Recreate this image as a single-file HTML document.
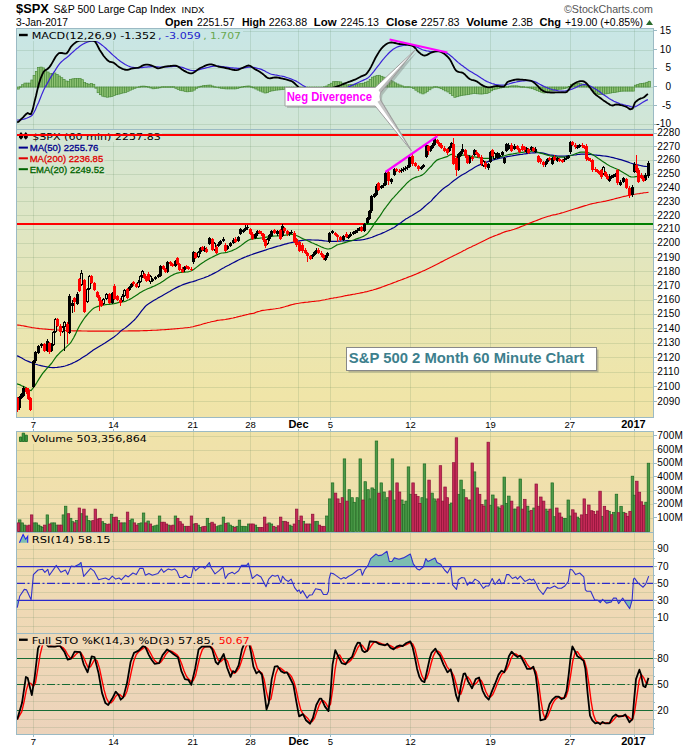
<!DOCTYPE html>
<html lang="en"><head><meta charset="utf-8"><title>$SPX S&amp;P 500 Large Cap Index - 60 min</title>
<style>html,body{margin:0;padding:0;background:#fff}svg{display:block}text{font-family:"Liberation Sans", sans-serif}.v{font-family:"DejaVu Sans", "Liberation Sans", sans-serif}</style></head><body>
<svg width="700" height="748" viewBox="0 0 700 748">
<defs><linearGradient id="bg" gradientUnits="userSpaceOnUse" x1="0" y1="28" x2="0" y2="734">
<stop offset="0.0000" stop-color="rgb(200,230,230)"/>
<stop offset="0.1232" stop-color="rgb(208,230,216)"/>
<stop offset="0.2436" stop-color="rgb(220,230,200)"/>
<stop offset="0.3994" stop-color="rgb(232,230,180)"/>
<stop offset="0.5198" stop-color="rgb(240,229,168)"/>
<stop offset="0.5907" stop-color="rgb(240,226,170)"/>
<stop offset="0.8314" stop-color="rgb(239,217,181)"/>
<stop offset="1.0000" stop-color="rgb(236,211,187)"/>
</linearGradient>
<linearGradient id="spk" x1="0" y1="0" x2="1" y2="0"><stop offset="0" stop-color="#fff"/><stop offset="0.55" stop-color="#fff"/><stop offset="1" stop-color="#8a8a8a"/></linearGradient>
<clipPath id="c1"><rect x="17" y="29" width="636" height="100"/></clipPath>
<clipPath id="c2"><rect x="17" y="130" width="636" height="287"/></clipPath>
<clipPath id="c70"><rect x="17" y="533" width="636" height="33.6"/></clipPath>
<clipPath id="c30"><rect x="17" y="600.4" width="636" height="32"/></clipPath>
<clipPath id="c5"><rect x="17" y="634" width="636" height="100"/></clipPath>
</defs>
<rect width="700" height="748" fill="#fff"/>
<text x="16" y="13.1" font-size="13" font-weight="bold" textLength="32.9" lengthAdjust="spacingAndGlyphs">$SPX</text>
<text x="53.6" y="13.1" font-size="11" textLength="122.3" lengthAdjust="spacingAndGlyphs">S&amp;P 500 Large Cap Index</text>
<text x="181.6" y="13.1" font-size="9" textLength="22.8" lengthAdjust="spacingAndGlyphs">INDX</text>
<text x="564" y="13" font-size="11" fill="#555" textLength="89" lengthAdjust="spacingAndGlyphs">©StockCharts.com</text>
<text x="16" y="26" font-size="10" textLength="52" lengthAdjust="spacingAndGlyphs">3-Jan-2017</text>
<text x="165" y="26" font-size="11" font-weight="bold" textLength="28" lengthAdjust="spacingAndGlyphs">Open</text>
<text x="197" y="26" font-size="10.5" textLength="37.4" lengthAdjust="spacingAndGlyphs">2251.57</text>
<text x="242" y="26" font-size="11" font-weight="bold" textLength="23.4" lengthAdjust="spacingAndGlyphs">High</text>
<text x="268.7" y="26" font-size="10.5" textLength="38.5" lengthAdjust="spacingAndGlyphs">2263.88</text>
<text x="313.8" y="26" font-size="11" font-weight="bold" textLength="22.8" lengthAdjust="spacingAndGlyphs">Low</text>
<text x="340.6" y="26" font-size="10.5" textLength="38.4" lengthAdjust="spacingAndGlyphs">2245.13</text>
<text x="386" y="26" font-size="11" font-weight="bold" textLength="31.5" lengthAdjust="spacingAndGlyphs">Close</text>
<text x="420.8" y="26" font-size="10.5" textLength="38.8" lengthAdjust="spacingAndGlyphs">2257.83</text>
<text x="466.3" y="26" font-size="11" font-weight="bold" textLength="41.5" lengthAdjust="spacingAndGlyphs">Volume</text>
<text x="512.1" y="26" font-size="10.5" textLength="21.1" lengthAdjust="spacingAndGlyphs">2.3B</text>
<text x="539.6" y="26" font-size="11" font-weight="bold" textLength="21.4" lengthAdjust="spacingAndGlyphs">Chg</text>
<text x="565" y="26" font-size="10.5" textLength="78" lengthAdjust="spacingAndGlyphs">+19.00 (+0.85%)</text>
<polygon points="646,25 653,25 649.5,20" fill="#2a6a2a"/>
<rect x="16.5" y="28.5" width="637" height="389" fill="url(#bg)" stroke="#9bbac4"/>
<rect x="16.5" y="431.5" width="637" height="303" fill="url(#bg)" stroke="#9bbac4"/>
<path d="M33.5 29V417M33.5 432V734M113.5 29V417M113.5 432V734M193.5 29V417M193.5 432V734M250.5 29V417M250.5 432V734M298.5 29V417M298.5 432V734M330.5 29V417M330.5 432V734M410.5 29V417M410.5 432V734M490.5 29V417M490.5 432V734M570.5 29V417M570.5 432V734M634.5 29V417M634.5 432V734M17 31.5H653M17 50.5H653M17 68.5H653M17 87.5H653M17 105.5H653M17 124.5H653M17 401.5H653M17 387.5H653M17 372.5H653M17 357.5H653M17 343.5H653M17 328.5H653M17 314.5H653M17 300.5H653M17 285.5H653M17 271.5H653M17 257.5H653M17 243.5H653M17 229.5H653M17 215.5H653M17 201.5H653M17 187.5H653M17 174.5H653M17 160.5H653M17 146.5H653M17 133.5H653M17 518.5H653M17 504.5H653M17 491.5H653M17 477.5H653M17 463.5H653M17 450.5H653M17 436.5H653M17 626.5H653M17 617.5H653M17 609.5H653M17 600.5H653M17 592.5H653M17 583.5H653M17 575.5H653M17 566.5H653M17 558.5H653M17 549.5H653M17 541.5H653M17 727.5H653M17 719.5H653M17 710.5H653M17 701.5H653M17 693.5H653M17 684.5H653M17 675.5H653M17 667.5H653M17 658.5H653M17 649.5H653M17 641.5H653" stroke="#4f7a50" stroke-opacity="0.16" fill="none" stroke-width="1"/>
<path d="M17 129.5H653M17 532.5H653M17 633.5H653" stroke="#9bbac4" fill="none"/>
<path d="M653 30.5H657M653 49.5H657M653 68.5H657M653 86.5H657M653 105.5H657M653 124.5H657M653 401.5H657M653 386.5H657M653 372.5H657M653 357.5H657M653 343.5H657M653 328.5H657M653 314.5H657M653 299.5H657M653 285.5H657M653 271.5H657M653 257.5H657M653 243.5H657M653 229.5H657M653 215.5H657M653 201.5H657M653 187.5H657M653 173.5H657M653 160.5H657M653 146.5H657M653 133.5H657M653 517.5H657M653 503.5H657M653 490.5H657M653 476.5H657M653 463.5H657M653 449.5H657M653 435.5H657M653 549.5H657M653 566.5H657M653 583.5H657M653 600.5H657M653 617.5H657M653 658.5H657M653 684.5H657M653 710.5H657M653 626.5H655M653 617.5H655M653 609.5H655M653 600.5H655M653 592.5H655M653 583.5H655M653 575.5H655M653 566.5H655M653 558.5H655M653 549.5H655M653 541.5H655M653 728.5H655M653 719.5H655M653 710.5H655M653 702.5H655M653 693.5H655M653 684.5H655M653 676.5H655M653 667.5H655M653 658.5H655M653 650.5H655M653 641.5H655" stroke="#9bbac4" fill="none"/>
<g font-size="10" letter-spacing="0.2" fill="#000"><text x="671.2" y="33.8" text-anchor="end">15</text><text x="671.2" y="52.5" text-anchor="end">10</text><text x="671.2" y="71.2" text-anchor="end">5</text><text x="671.2" y="89.9" text-anchor="end">0</text><text x="671.2" y="108.6" text-anchor="end">-5</text><text x="671.2" y="127.3" text-anchor="end">-10</text><text x="657.2" y="404.7">2090</text><text x="657.2" y="390">2100</text><text x="657.2" y="375.3">2110</text><text x="657.2" y="360.7">2120</text><text x="657.2" y="346.2">2130</text><text x="657.2" y="331.8">2140</text><text x="657.2" y="317.4">2150</text><text x="657.2" y="303.1">2160</text><text x="657.2" y="288.8">2170</text><text x="657.2" y="274.6">2180</text><text x="657.2" y="260.5">2190</text><text x="657.2" y="246.4">2200</text><text x="657.2" y="232.4">2210</text><text x="657.2" y="218.5">2220</text><text x="657.2" y="204.6">2230</text><text x="657.2" y="190.8">2240</text><text x="657.2" y="177.1">2250</text><text x="657.2" y="163.4">2260</text><text x="657.2" y="149.8">2270</text><text x="657.2" y="136.2">2280</text><text x="657.2" y="520.8">100M</text><text x="657.2" y="507.2">200M</text><text x="657.2" y="493.5">300M</text><text x="657.2" y="479.9">400M</text><text x="657.2" y="466.3">500M</text><text x="657.2" y="452.7">600M</text><text x="657.2" y="439.1">700M</text><text x="657.2" y="552.4">90</text><text x="657.2" y="569.5">70</text><text x="657.2" y="586.5">50</text><text x="657.2" y="603.5">30</text><text x="657.2" y="620.6">10</text><text x="657.2" y="661.6">80</text><text x="657.2" y="687.6">50</text><text x="657.2" y="713.6">20</text></g>
<g font-size="9.5"><text x="33.5" y="428" text-anchor="middle">7</text><text x="33.5" y="745" text-anchor="middle">7</text><text x="113.5" y="428" text-anchor="middle">14</text><text x="113.5" y="745" text-anchor="middle">14</text><text x="192.8" y="428" text-anchor="middle">21</text><text x="192.8" y="745" text-anchor="middle">21</text><text x="250.5" y="428" text-anchor="middle">28</text><text x="250.5" y="745" text-anchor="middle">28</text><text x="298.5" y="428" text-anchor="middle" font-weight="bold" font-size="11">Dec</text><text x="298.5" y="745" text-anchor="middle" font-weight="bold" font-size="11">Dec</text><text x="330.5" y="428" text-anchor="middle">5</text><text x="330.5" y="745" text-anchor="middle">5</text><text x="410.5" y="428" text-anchor="middle">12</text><text x="410.5" y="745" text-anchor="middle">12</text><text x="490.5" y="428" text-anchor="middle">19</text><text x="490.5" y="745" text-anchor="middle">19</text><text x="569.8" y="428" text-anchor="middle">27</text><text x="569.8" y="745" text-anchor="middle">27</text><text x="633.5" y="428" text-anchor="middle" font-weight="bold" font-size="11">2017</text><text x="633.5" y="745" text-anchor="middle" font-weight="bold" font-size="11">2017</text></g>
<path d="M33.5 418v2M33.5 429v2M33.5 735v2M113.5 418v2M113.5 429v2M113.5 735v2M193.5 418v2M193.5 429v2M193.5 735v2M250.5 418v2M250.5 429v2M250.5 735v2M298.5 418v2M298.5 429v2M298.5 735v2M330.5 418v2M330.5 429v2M330.5 735v2M410.5 418v2M410.5 429v2M410.5 735v2M490.5 418v2M490.5 429v2M490.5 735v2M570.5 418v2M570.5 429v2M570.5 735v2M634.5 418v2M634.5 429v2M634.5 735v2" stroke="#9bbac4" fill="none"/>
<g clip-path="url(#c1)">
<g fill="#8fc274" stroke="#4c8c3c" stroke-width="0.7"><rect x="17.1" y="87" width="2.3" height="2.1"/><rect x="19.3" y="86.7" width="2.3" height="0.6"/><rect x="21.6" y="84.7" width="2.3" height="2.3"/><rect x="23.9" y="83.1" width="2.3" height="3.9"/><rect x="26.2" y="83.1" width="2.3" height="3.9"/><rect x="28.5" y="83.1" width="2.3" height="3.9"/><rect x="30.8" y="80" width="2.3" height="7"/><rect x="33.1" y="75.4" width="2.3" height="11.6"/><rect x="35.3" y="71.5" width="2.3" height="15.5"/><rect x="37.6" y="67.6" width="2.3" height="19.4"/><rect x="39.9" y="67.1" width="2.3" height="19.9"/><rect x="42.2" y="67.9" width="2.3" height="19.1"/><rect x="44.5" y="70.2" width="2.3" height="16.8"/><rect x="46.8" y="72" width="2.3" height="15"/><rect x="49.1" y="73.7" width="2.3" height="13.3"/><rect x="51.3" y="73.5" width="2.3" height="13.5"/><rect x="53.6" y="73" width="2.3" height="14"/><rect x="55.9" y="74.4" width="2.3" height="12.6"/><rect x="58.2" y="76" width="2.3" height="11"/><rect x="60.5" y="77.7" width="2.3" height="9.3"/><rect x="62.8" y="79.4" width="2.3" height="7.6"/><rect x="65.1" y="81" width="2.3" height="6"/><rect x="67.4" y="81.3" width="2.3" height="5.7"/><rect x="69.6" y="79.3" width="2.3" height="7.7"/><rect x="71.9" y="78.8" width="2.3" height="8.2"/><rect x="74.2" y="78.6" width="2.3" height="8.4"/><rect x="76.5" y="78.6" width="2.3" height="8.4"/><rect x="78.8" y="78.6" width="2.3" height="8.4"/><rect x="81.1" y="79.7" width="2.3" height="7.3"/><rect x="83.4" y="82.6" width="2.3" height="4.4"/><rect x="85.6" y="83.6" width="2.3" height="3.4"/><rect x="87.9" y="84.2" width="2.3" height="2.8"/><rect x="90.2" y="83.6" width="2.3" height="3.4"/><rect x="92.5" y="84.3" width="2.3" height="2.7"/><rect x="94.8" y="87" width="2.3" height="1.2"/><rect x="97.1" y="87" width="2.3" height="5.7"/><rect x="99.4" y="87" width="2.3" height="7.7"/><rect x="101.7" y="87" width="2.3" height="9.2"/><rect x="103.9" y="87" width="2.3" height="9.8"/><rect x="106.2" y="87" width="2.3" height="10.2"/><rect x="108.5" y="87" width="2.3" height="9.9"/><rect x="110.8" y="87" width="2.3" height="9.5"/><rect x="113.1" y="87" width="2.3" height="8.6"/><rect x="115.4" y="87" width="2.3" height="7.7"/><rect x="117.7" y="87" width="2.3" height="7.1"/><rect x="119.9" y="87" width="2.3" height="6.5"/><rect x="122.2" y="87" width="2.3" height="5.9"/><rect x="124.5" y="87" width="2.3" height="5.4"/><rect x="126.8" y="87" width="2.3" height="4.3"/><rect x="129.1" y="87" width="2.3" height="3.2"/><rect x="131.4" y="87" width="2.3" height="2.2"/><rect x="133.7" y="87" width="2.3" height="1.3"/><rect x="135.9" y="87" width="2.3" height="0.5"/><rect x="138.2" y="86.7" width="2.3" height="0.6"/><rect x="140.5" y="86.2" width="2.3" height="0.8"/><rect x="142.8" y="86.1" width="2.3" height="0.9"/><rect x="145.1" y="86.5" width="2.3" height="0.5"/><rect x="147.4" y="86.7" width="2.3" height="0.6"/><rect x="149.7" y="87" width="2.3" height="1"/><rect x="152" y="87" width="2.3" height="1.8"/><rect x="154.2" y="87" width="2.3" height="1.6"/><rect x="156.5" y="87" width="2.3" height="1.2"/><rect x="158.8" y="87" width="2.3" height="0.8"/><rect x="161.1" y="86.7" width="2.3" height="0.6"/><rect x="163.4" y="86.7" width="2.3" height="0.6"/><rect x="165.7" y="86.7" width="2.3" height="0.6"/><rect x="168" y="86.7" width="2.3" height="0.6"/><rect x="170.2" y="86.7" width="2.3" height="0.6"/><rect x="172.5" y="86.7" width="2.3" height="0.6"/><rect x="174.8" y="87" width="2.3" height="1.3"/><rect x="177.1" y="87" width="2.3" height="2.6"/><rect x="179.4" y="87" width="2.3" height="3.3"/><rect x="181.7" y="87" width="2.3" height="3.8"/><rect x="184" y="87" width="2.3" height="4.4"/><rect x="186.3" y="87" width="2.3" height="4.8"/><rect x="188.5" y="87" width="2.3" height="4.5"/><rect x="190.8" y="87" width="2.3" height="4.2"/><rect x="193.1" y="87" width="2.3" height="3.1"/><rect x="195.4" y="87" width="2.3" height="1.3"/><rect x="197.7" y="86.7" width="2.3" height="0.6"/><rect x="200" y="86.2" width="2.3" height="0.8"/><rect x="202.3" y="85.7" width="2.3" height="1.3"/><rect x="204.5" y="85.5" width="2.3" height="1.5"/><rect x="206.8" y="85.2" width="2.3" height="1.8"/><rect x="209.1" y="85.1" width="2.3" height="1.9"/><rect x="211.4" y="86" width="2.3" height="1"/><rect x="213.7" y="86.7" width="2.3" height="0.6"/><rect x="216" y="87" width="2.3" height="0.5"/><rect x="218.3" y="87" width="2.3" height="0.9"/><rect x="220.5" y="87" width="2.3" height="1.3"/><rect x="222.8" y="87" width="2.3" height="1.7"/><rect x="225.1" y="87" width="2.3" height="1.9"/><rect x="227.4" y="87" width="2.3" height="1.9"/><rect x="229.7" y="87" width="2.3" height="1.9"/><rect x="232" y="87" width="2.3" height="1.9"/><rect x="234.3" y="87" width="2.3" height="1.9"/><rect x="236.6" y="87" width="2.3" height="1.4"/><rect x="238.8" y="87" width="2.3" height="0.7"/><rect x="241.1" y="86.7" width="2.3" height="0.6"/><rect x="243.4" y="86.4" width="2.3" height="0.6"/><rect x="245.7" y="86.1" width="2.3" height="0.9"/><rect x="248" y="86" width="2.3" height="1"/><rect x="250.3" y="86.7" width="2.3" height="0.6"/><rect x="252.6" y="87" width="2.3" height="0.9"/><rect x="254.8" y="87" width="2.3" height="2"/><rect x="257.1" y="87" width="2.3" height="3.1"/><rect x="259.4" y="87" width="2.3" height="4.1"/><rect x="261.7" y="87" width="2.3" height="5.1"/><rect x="264" y="87" width="2.3" height="6"/><rect x="266.3" y="87" width="2.3" height="5.7"/><rect x="268.6" y="87" width="2.3" height="4.5"/><rect x="270.9" y="87" width="2.3" height="3.9"/><rect x="273.1" y="87" width="2.3" height="3.5"/><rect x="275.4" y="87" width="2.3" height="3.1"/><rect x="277.7" y="87" width="2.3" height="2.9"/><rect x="280" y="87" width="2.3" height="2.7"/><rect x="282.3" y="87" width="2.3" height="2.6"/><rect x="284.6" y="87" width="2.3" height="2.6"/><rect x="286.9" y="87" width="2.3" height="2.7"/><rect x="289.1" y="87" width="2.3" height="2.8"/><rect x="291.4" y="87" width="2.3" height="2.9"/><rect x="293.7" y="87" width="2.3" height="3"/><rect x="296" y="87" width="2.3" height="3.2"/><rect x="298.3" y="87" width="2.3" height="3.4"/><rect x="300.6" y="87" width="2.3" height="3.7"/><rect x="302.9" y="87" width="2.3" height="3.9"/><rect x="305.1" y="87" width="2.3" height="3.8"/><rect x="307.4" y="87" width="2.3" height="3.4"/><rect x="309.7" y="87" width="2.3" height="3.1"/><rect x="312" y="87" width="2.3" height="2.7"/><rect x="314.3" y="87" width="2.3" height="2.4"/><rect x="316.6" y="87" width="2.3" height="2"/><rect x="318.9" y="87" width="2.3" height="1.4"/><rect x="321.2" y="87" width="2.3" height="0.7"/><rect x="323.4" y="86.7" width="2.3" height="0.6"/><rect x="325.7" y="86" width="2.3" height="1"/><rect x="328" y="84.6" width="2.3" height="2.4"/><rect x="330.3" y="83.2" width="2.3" height="3.8"/><rect x="332.6" y="81.7" width="2.3" height="5.3"/><rect x="334.9" y="81.5" width="2.3" height="5.5"/><rect x="337.2" y="81.7" width="2.3" height="5.3"/><rect x="339.4" y="81.9" width="2.3" height="5.1"/><rect x="341.7" y="83.2" width="2.3" height="3.8"/><rect x="344" y="84.7" width="2.3" height="2.3"/><rect x="346.3" y="84.9" width="2.3" height="2.1"/><rect x="348.6" y="84.7" width="2.3" height="2.3"/><rect x="350.9" y="84.5" width="2.3" height="2.5"/><rect x="353.2" y="84.3" width="2.3" height="2.7"/><rect x="355.5" y="84.1" width="2.3" height="2.9"/><rect x="357.7" y="83.8" width="2.3" height="3.2"/><rect x="360" y="83.5" width="2.3" height="3.5"/><rect x="362.3" y="83.2" width="2.3" height="3.8"/><rect x="364.6" y="82.3" width="2.3" height="4.7"/><rect x="366.9" y="81.2" width="2.3" height="5.8"/><rect x="369.2" y="79.3" width="2.3" height="7.7"/><rect x="371.5" y="77.2" width="2.3" height="9.8"/><rect x="373.7" y="76.2" width="2.3" height="10.8"/><rect x="376" y="75.6" width="2.3" height="11.4"/><rect x="378.3" y="75.3" width="2.3" height="11.7"/><rect x="380.6" y="76.3" width="2.3" height="10.7"/><rect x="382.9" y="77.2" width="2.3" height="9.8"/><rect x="385.2" y="78.3" width="2.3" height="8.7"/><rect x="387.5" y="79.5" width="2.3" height="7.5"/><rect x="389.7" y="80.6" width="2.3" height="6.4"/><rect x="392" y="81.8" width="2.3" height="5.2"/><rect x="394.3" y="82.9" width="2.3" height="4.1"/><rect x="396.6" y="84" width="2.3" height="3"/><rect x="398.9" y="85" width="2.3" height="2"/><rect x="401.2" y="85.9" width="2.3" height="1.1"/><rect x="403.5" y="86.7" width="2.3" height="0.6"/><rect x="405.8" y="86.7" width="2.3" height="0.6"/><rect x="408" y="86.7" width="2.3" height="0.6"/><rect x="410.3" y="87" width="2.3" height="0.5"/><rect x="412.6" y="87" width="2.3" height="1.6"/><rect x="414.9" y="87" width="2.3" height="3.2"/><rect x="417.2" y="87" width="2.3" height="4.9"/><rect x="419.5" y="87" width="2.3" height="6"/><rect x="421.8" y="87" width="2.3" height="6.9"/><rect x="424" y="87" width="2.3" height="5.9"/><rect x="426.3" y="87" width="2.3" height="4.4"/><rect x="428.6" y="87" width="2.3" height="2.8"/><rect x="430.9" y="87" width="2.3" height="1.1"/><rect x="433.2" y="86.7" width="2.3" height="0.6"/><rect x="435.5" y="86.7" width="2.3" height="0.6"/><rect x="437.8" y="87" width="2.3" height="0.8"/><rect x="440.1" y="87" width="2.3" height="1.7"/><rect x="442.3" y="87" width="2.3" height="2.8"/><rect x="444.6" y="87" width="2.3" height="3.9"/><rect x="446.9" y="87" width="2.3" height="5"/><rect x="449.2" y="87" width="2.3" height="6.7"/><rect x="451.5" y="87" width="2.3" height="8.5"/><rect x="453.8" y="87" width="2.3" height="10.3"/><rect x="456.1" y="87" width="2.3" height="9.7"/><rect x="458.3" y="87" width="2.3" height="9"/><rect x="460.6" y="87" width="2.3" height="8.5"/><rect x="462.9" y="87" width="2.3" height="8.1"/><rect x="465.2" y="87" width="2.3" height="7.8"/><rect x="467.5" y="87" width="2.3" height="7.4"/><rect x="469.8" y="87" width="2.3" height="7"/><rect x="472.1" y="87" width="2.3" height="6.6"/><rect x="474.4" y="87" width="2.3" height="6.5"/><rect x="476.6" y="87" width="2.3" height="6.8"/><rect x="478.9" y="87" width="2.3" height="7"/><rect x="481.2" y="87" width="2.3" height="7"/><rect x="483.5" y="87" width="2.3" height="6.7"/><rect x="485.8" y="87" width="2.3" height="6.5"/><rect x="488.1" y="87" width="2.3" height="5.5"/><rect x="490.4" y="87" width="2.3" height="3.8"/><rect x="492.6" y="87" width="2.3" height="2.7"/><rect x="494.9" y="87" width="2.3" height="2.1"/><rect x="497.2" y="87" width="2.3" height="1.5"/><rect x="499.5" y="87" width="2.3" height="1"/><rect x="501.8" y="87" width="2.3" height="0.6"/><rect x="504.1" y="86.7" width="2.3" height="0.6"/><rect x="506.4" y="86.7" width="2.3" height="0.6"/><rect x="508.6" y="86.2" width="2.3" height="0.8"/><rect x="510.9" y="85.9" width="2.3" height="1.1"/><rect x="513.2" y="85.9" width="2.3" height="1.1"/><rect x="515.5" y="85.9" width="2.3" height="1.1"/><rect x="517.8" y="86.2" width="2.3" height="0.8"/><rect x="520.1" y="86.7" width="2.3" height="0.6"/><rect x="522.4" y="86.7" width="2.3" height="0.6"/><rect x="524.7" y="87" width="2.3" height="0.5"/><rect x="526.9" y="87" width="2.3" height="0.8"/><rect x="529.2" y="87" width="2.3" height="1.1"/><rect x="531.5" y="87" width="2.3" height="1.7"/><rect x="533.8" y="87" width="2.3" height="2.7"/><rect x="536.1" y="87" width="2.3" height="3.7"/><rect x="538.4" y="87" width="2.3" height="4.5"/><rect x="540.7" y="87" width="2.3" height="5.3"/><rect x="542.9" y="87" width="2.3" height="6"/><rect x="545.2" y="87" width="2.3" height="5.2"/><rect x="547.5" y="87" width="2.3" height="4.4"/><rect x="549.8" y="87" width="2.3" height="3.8"/><rect x="552.1" y="87" width="2.3" height="3.3"/><rect x="554.4" y="87" width="2.3" height="2.7"/><rect x="556.7" y="87" width="2.3" height="2.4"/><rect x="559" y="87" width="2.3" height="2.2"/><rect x="561.2" y="87" width="2.3" height="2"/><rect x="563.5" y="87" width="2.3" height="1.6"/><rect x="565.8" y="87" width="2.3" height="1"/><rect x="568.1" y="86.5" width="2.3" height="0.5"/><rect x="570.4" y="84.3" width="2.3" height="2.7"/><rect x="572.7" y="83.8" width="2.3" height="3.2"/><rect x="575" y="83.3" width="2.3" height="3.7"/><rect x="577.2" y="83.3" width="2.3" height="3.7"/><rect x="579.5" y="83.7" width="2.3" height="3.3"/><rect x="581.8" y="84.1" width="2.3" height="2.9"/><rect x="584.1" y="84.9" width="2.3" height="2.1"/><rect x="586.4" y="86.1" width="2.3" height="0.9"/><rect x="588.7" y="87" width="2.3" height="0.8"/><rect x="591" y="87" width="2.3" height="3.1"/><rect x="593.2" y="87" width="2.3" height="4.9"/><rect x="595.5" y="87" width="2.3" height="6.8"/><rect x="597.8" y="87" width="2.3" height="7.6"/><rect x="600.1" y="87" width="2.3" height="7.6"/><rect x="602.4" y="87" width="2.3" height="7.3"/><rect x="604.7" y="87" width="2.3" height="6.9"/><rect x="607" y="87" width="2.3" height="6.5"/><rect x="609.3" y="87" width="2.3" height="6.1"/><rect x="611.5" y="87" width="2.3" height="5.7"/><rect x="613.8" y="87" width="2.3" height="5.4"/><rect x="616.1" y="87" width="2.3" height="5"/><rect x="618.4" y="87" width="2.3" height="4.6"/><rect x="620.7" y="87" width="2.3" height="4.2"/><rect x="623" y="87" width="2.3" height="4.1"/><rect x="625.3" y="87" width="2.3" height="4.1"/><rect x="627.5" y="87" width="2.3" height="4.1"/><rect x="629.8" y="87" width="2.3" height="4.1"/><rect x="632.1" y="87" width="2.3" height="4.1"/><rect x="634.4" y="85.2" width="2.3" height="1.8"/><rect x="636.7" y="84.5" width="2.3" height="2.5"/><rect x="639" y="83.7" width="2.3" height="3.3"/><rect x="641.3" y="83.4" width="2.3" height="3.6"/><rect x="643.6" y="83.1" width="2.3" height="3.9"/><rect x="645.8" y="82.3" width="2.3" height="4.7"/><rect x="648.1" y="81.3" width="2.3" height="5.7"/></g>
<polyline points="17.2,120.2 18.8,120 20.5,119.8 22.1,119.5 23.8,119.1 25.4,118.6 27.1,118 28.8,117.3 30.6,116.4 32.3,115.1 33.8,112.7 35.4,109.8 36.9,106 38.6,102.4 40.3,98.2 42,93.9 43.7,90 45.4,86.6 47.2,83.6 48.9,80.5 50.6,77.4 52.1,75.1 53.6,72.7 55.2,70.3 56.7,67.9 58.2,65.7 59.7,63.7 61.2,62 62.8,60.6 64.3,59.3 65.8,58.2 67.4,57 68.9,55.7 70.4,54.3 71.9,52.9 73.5,51.5 75,50.1 76.5,48.8 78,47.7 79.7,46.3 81.5,45 83.2,44 84.9,43.1 86.4,42.5 87.9,42 89.5,41.5 91,41.1 92.5,40.9 94,40.9 95.7,41.2 97.5,42 99.2,43 100.9,44.3 102.4,45.4 103.9,46.6 105.5,48 107,49.5 108.5,50.9 110,52.3 111.5,53.7 113,55.1 114.5,56.4 116.1,57.8 117.6,59.1 119.1,60.3 120.6,61.4 122.2,62.5 123.7,63.5 125.2,64.5 126.8,65.3 128.3,66 129.8,66.6 131.3,67 132.9,67.3 134.4,67.6 135.9,67.7 137.4,67.8 138.9,67.8 140.4,67.7 142,67.6 143.5,67.4 145,67.2 146.5,67.1 148.1,66.9 149.6,66.8 151.1,66.7 152.7,66.7 154.4,66.7 156,66.8 157.7,66.9 159.3,67 161,67.1 162.6,67.1 164.4,67 166.3,66.9 168.2,66.8 170,66.7 171.5,66.6 173,66.5 174.6,66.4 176.1,66.4 177.6,66.5 179.1,66.7 180.6,67 182.2,67.4 183.7,67.9 185.2,68.5 186.8,69.1 188.3,69.6 189.8,70.1 191.4,70.4 192.9,70.6 194.5,70.6 196.2,70.4 197.8,70 199.4,69.6 201,69.1 202.7,68.7 204.3,68.3 205.9,67.9 207.6,67.5 209.2,67.1 210.8,66.7 212.4,66.4 214.1,66.1 215.7,66 217.2,66 218.7,66.1 220.3,66.3 221.8,66.5 223.3,66.7 224.8,67 226.4,67.2 227.9,67.4 229.4,67.6 231,67.8 232.7,67.9 234.3,68.1 236,68.2 237.6,68.3 239.3,68.3 240.9,68.3 242.4,68.2 243.9,67.9 245.4,67.6 247,67.3 248.5,67.1 250,67.1 251.6,67.2 253.3,67.4 254.9,67.7 256.5,68.1 258.1,68.5 259.8,68.9 261.4,69.4 262.9,70.1 264.5,70.8 266,71.7 267.5,72.5 269.1,73.3 270.6,74 272.1,74.4 273.6,74.7 275.2,75 276.7,75.2 278.2,75.5 279.7,75.8 281.3,76 282.8,76.3 284.3,76.7 285.9,77.2 287.6,77.7 289.2,78.3 290.8,78.9 292.4,79.5 294.1,80.2 295.7,80.9 297.2,81.8 298.8,82.7 300.3,83.7 301.8,84.7 303.4,85.7 304.9,86.6 306.7,87.8 308.4,89 310.2,90.1 312,91 313.6,91.7 315.2,92.3 316.8,92.8 318.4,93.2 320,93.5 321.7,93.6 323.3,93.6 325,93.6 326.7,93.5 328.3,93.3 330,93 331.7,92.6 333.3,92.2 335,91.7 336.7,91.1 338.3,90.6 340,90 341.5,89.5 343,88.9 344.6,88.4 346.1,87.8 347.6,87.2 349.1,86.6 350.8,85.9 352.5,85.2 354.2,84.4 356,83.6 357.7,82.8 359.4,82 360.9,81.3 362.5,80.6 364,79.9 365.5,79.2 367.1,78.4 368.6,77.4 370.3,75.7 372,73.7 373.7,71.6 375.4,69.4 377.1,67.2 378.9,65 380.6,62.6 382.3,60.3 383.8,58.7 385.3,56.9 386.9,55.2 388.4,53.5 389.9,52 391.4,50.7 393.1,49.2 394.9,48.2 396.6,47.3 398.3,46.6 399.8,46.2 401.3,45.8 402.9,45.5 404.4,45.2 405.9,45.1 407.4,45 409.1,45 410.9,45.2 412.6,45.6 414.3,46.1 415.8,46.6 417.3,47.3 418.9,48 420.4,48.8 421.9,49.5 423.4,50 424.9,50.4 426.5,50.8 428,51 429.5,51.3 431.1,51.5 432.6,51.6 434.1,51.7 435.6,51.6 437.1,51.5 438.7,51.4 440.2,51.4 441.7,51.6 443.6,52 445.4,52.6 447.2,53.4 449.1,54.6 450.6,55.7 452.2,56.9 453.7,58.4 455.2,59.8 456.8,61.3 458.3,62.6 459.8,63.8 461.3,65 462.9,66.1 464.4,67.3 465.9,68.3 467.4,69.4 468.9,70.4 470.5,71.4 472,72.3 473.5,73.2 475.1,74.2 476.6,75.1 478.1,76.1 479.6,77.1 481.1,78.1 482.7,79.1 484.2,80.1 485.7,80.9 487.2,81.6 488.8,82.3 490.3,82.9 491.8,83.5 493.4,83.9 494.9,84.3 496.4,84.6 497.9,84.8 499.4,85 501,85.1 502.5,85.1 504,85 505.5,84.8 507,84.4 508.6,84 510.1,83.5 511.6,83.1 513.1,82.7 514.6,82.3 516.2,82 517.7,81.6 519.2,81.3 520.8,81.1 522.3,80.9 523.9,80.8 525.6,80.7 527.2,80.7 528.8,80.7 530.4,80.8 532.1,81 533.7,81.3 535.2,81.8 536.8,82.6 538.3,83.4 539.8,84.3 541.4,85.1 542.9,85.9 544.4,86.6 545.9,87.2 547.5,87.9 549,88.5 550.5,89 552,89.5 553.6,89.9 555.3,90.2 556.9,90.5 558.5,90.8 560.1,91 561.8,91.1 563.4,91.1 564.9,91 566.5,90.7 568,90.3 569.5,89.9 571.1,89.4 572.6,88.9 574.1,88.3 575.6,87.6 577.2,86.8 578.7,86 580.2,85.4 581.7,85 583.4,84.7 585.2,84.7 586.9,85 588.6,85.4 590.3,86 592,86.9 593.7,87.9 595.4,88.9 597,89.9 598.5,91 600.1,92.1 601.7,93.4 603.2,94.4 604.8,95.4 606.3,96.5 607.8,97.6 609.4,98.7 610.9,99.6 612.4,100.4 613.9,101.2 615.5,101.9 617,102.5 618.5,103.1 620,103.7 621.5,104.2 623,104.6 624.5,105 626.1,105.4 627.6,105.7 629.1,106 630.6,106.6 632.2,107.1 633.7,107.1 635.4,106.6 637.2,105.7 638.9,104.7 640.6,103.7 642.4,102.6 644.2,101.4 646.1,100.4 647.9,99.6" fill="none" stroke="#3a22d8" stroke-width="1.2"/>
<polyline points="17.2,122.5 19.2,121.2 21.1,119.2 23.1,117.4 24.6,115.6 26.2,114 27.7,112.9 29.4,114 31.1,114 32.9,108.9 34.6,101.4 36.1,95.5 37.6,88.9 39.1,83.1 40.6,78.5 42.2,74.7 43.7,71.7 45.6,70 47.5,69 49.4,67.1 51,64.9 52.6,62.1 54.2,59.2 55.8,56.5 57.4,54.6 58.9,53.2 60.5,53 62,53 63.5,53.3 65.1,53.7 66.6,53.4 68.1,51.6 69.6,49 71.1,46.6 73,44.7 75,42.9 76.9,41.6 78.8,40.9 80.7,40.7 82.6,40.6 84.2,40.5 85.8,40.5 87.4,40.5 89,40.6 90.5,40.6 92,40.6 93.6,40.8 95.1,41.6 96.6,43.9 98.2,47 99.7,50 101.6,52.8 103.5,55.7 105.4,58 106.9,59.7 108.5,61 110,61.9 111.7,62.2 113.4,62.6 115.3,63.9 117.2,65.6 119.1,67.1 120.8,68 122.5,68.9 124.3,69.5 126,69.9 127.7,69.8 129.4,69.3 131.2,68.7 132.9,68.3 134.8,68.1 136.7,67.9 138.6,67.6 140.5,66.7 142.4,65.6 144.3,64.9 146,64.7 147.7,64.7 149.4,64.9 151.1,65.3 152.8,66 154.6,66.9 156.3,67.8 158,68.3 159.7,68.2 161.4,67.7 163.2,67.1 164.9,66.7 166.6,66.4 168.3,66.1 170,66 171.7,65.8 173.4,65.7 175.2,65.7 176.9,66 178.6,66.9 180.3,68.1 182,69.5 183.7,70.6 185.3,71.4 186.9,72.2 188.5,72.9 190.1,73.3 191.7,73.3 193.3,72.8 194.9,71.8 196.5,70.6 198.1,69.4 199.7,68.3 201.4,67.5 203.1,66.7 204.8,65.9 206.6,65.2 208.3,64.7 210,64.4 211.6,64.4 213.2,64.8 214.8,65.4 216.4,66 218,66.5 219.5,66.8 221,67.1 222.6,67.4 224.1,67.7 225.6,68 227.1,68.3 228.6,68.6 230.2,69.1 231.7,69.5 233.2,69.8 234.8,70 236.3,70.1 238,69.8 239.7,69.1 241.4,68.3 243.1,67.6 245,66.7 247,65.8 248.9,65.5 250.8,66.2 252.7,67.6 254.6,69 256.3,69.9 258,70.8 259.7,71.8 261.4,72.9 263.1,74.2 264.9,75.8 266.6,77.2 268.3,78.1 270,78.3 271.7,78 273.4,77.6 275.1,77.4 276.6,77.5 278.2,77.7 279.7,78 281.2,78.3 282.8,78.7 284.3,79 285.9,79.4 287.5,79.8 289.1,80.3 290.7,80.8 292.3,81.5 294.2,83 296.1,84.8 298,86.6 299.7,88.4 301.3,90.3 303,92 304.7,93.5 306.3,94.9 308,96 309.8,96.5 311.5,96.9 313.2,97 315,97 316.8,96.8 318.5,96.3 320.2,95.7 322,95 323.5,94.1 325,93.1 326.5,92 328,91 330,89.3 332,88 333.5,87.5 335.1,87.2 336.6,86.6 338.1,86.1 339.6,85.6 341.1,85 342.7,84.3 344.2,83.7 345.7,83.1 347.2,82.5 348.8,81.9 350.3,81.4 351.8,80.8 353.4,80.2 354.9,79.7 356.8,78.7 358.7,77.7 360.6,76.7 362.5,75.9 364.4,75.2 366.3,74 367.8,72.1 369.4,69.7 370.9,67.1 372.4,64.2 373.9,61.1 375.4,58 377.3,54.8 379.2,51.6 381.1,48.9 383,46.8 385,45.1 386.9,43.8 388.4,43 389.9,42.6 391.4,42.5 393.1,42.7 394.9,43 396.6,43.4 398.3,43.8 399.8,44 401.3,44.1 402.9,44.2 404.4,44.4 405.9,44.5 407.4,44.7 409.3,45 411.2,45.3 413.1,46.1 415,47.9 417,50.3 418.9,52.3 420.8,53.9 422.7,55.1 424.6,55.7 426.5,55.2 428.4,54.1 430.3,53 432,52.4 433.7,51.8 435.4,51.3 437.1,51.1 439,51.3 441,51.9 442.9,53 444.6,54.1 446.3,55.5 448,57.1 449.7,59.1 451.3,61.8 452.9,65.1 454.4,68.2 456,70.6 457.7,71.7 459.4,72.1 461.2,72.3 462.9,72.9 464.6,74.2 466.3,76 468,77.7 469.7,79 471.4,79.8 473.1,80.2 474.9,80.7 476.6,81.3 478.3,82.4 480,83.7 481.7,84.9 483.4,85.9 485.3,86.7 487.2,87.2 489.1,87.3 490.7,87.2 492.3,86.8 493.9,86.4 495.5,86.1 497.1,85.9 498.8,86.1 500.6,86.5 502.3,86.7 504,86.6 505.7,84.5 507.4,82 509,81.4 510.6,80.8 512.2,80.3 513.8,80 515.4,79.7 517.1,79.5 518.8,79.5 520.6,79.6 522.3,79.7 523.8,79.8 525.3,79.9 526.8,80.1 528.4,80.3 529.9,80.6 531.4,80.9 532.9,81.8 534.5,82.9 536,84.3 537.9,86.2 539.8,88.3 541.7,90 543.6,91.1 545.5,91.8 547.4,92.3 549,92.4 550.7,92.5 552.3,92.5 554,92.5 555.6,92.4 557.3,92.3 558.9,92.3 560.5,92.3 562.1,92.4 563.7,92.4 565.3,92.3 566.9,91.8 568.4,90.2 569.9,87.9 571.4,85.9 573.3,84.3 575.2,83 577.1,82 578.8,81.5 580.5,81.2 582.3,81.2 584,81.5 585.5,82.5 587.1,84 588.6,85.9 590.5,88.2 592.4,90.9 594.3,93.4 596.1,95 598,96.4 599.9,97.8 601.7,99.1 603.4,100.4 605.2,101.6 606.9,102.8 608.6,103.7 610.3,105 612,105.5 613.5,105.3 615.1,104.7 616.6,104.4 618.5,104.6 620.4,105 622.3,105.5 623.8,106 625.4,106.5 626.9,107.1 628.6,108.4 630.3,109.4 632.6,108.7 634.9,102.6 636.4,101.2 637.9,100 639.4,99.1 640.9,98.4 642.5,98 644,97.3 646,95.5 647.9,93.9" fill="none" stroke="#000" stroke-width="1.8" stroke-linejoin="round"/>
<line x1="389.6" y1="39.6" x2="447.4" y2="52.5" stroke="#f0f" stroke-width="2"/>
</g>
<rect x="17" y="29" width="226" height="12" fill="url(#bg)"/>
<rect x="19" y="33.8" width="8.7" height="2.4" fill="#000"/>
<text x="31.7" y="38.7" font-size="9.4" class="v" textLength="124.5" lengthAdjust="spacingAndGlyphs">MACD(12,26,9) -1.352</text>
<text x="158" y="38.7" font-size="9.4" fill="#2222cc" class="v" textLength="42.8" lengthAdjust="spacingAndGlyphs">, -3.059</text>
<text x="203.2" y="38.7" font-size="9.4" fill="#6aa84f" class="v" textLength="37.8" lengthAdjust="spacingAndGlyphs">, 1.707</text>
<g clip-path="url(#c2)">
<path d="M17 130h145v12h-62.5v11h5v11h1v11H17z" fill="url(#bg)"/>
<path d="M21 132l2 2.5v3l-2 2.3-2-2.3v-3zM25.8 132l2 2.5v3l-2 2.3-2-2.3v-3z" fill="#000"/>
<text x="32.2" y="139.7" font-size="9.4" class="v" textLength="128.6" lengthAdjust="spacingAndGlyphs">$SPX (60 min) 2257.83</text>
<rect x="18.7" y="146.6" width="9.2" height="2" fill="#00008b"/>
<text x="29.7" y="151.2" font-size="9.6" fill="#00008b" stroke="#00008b" stroke-width="0.3" textLength="68.6" lengthAdjust="spacingAndGlyphs">MA(50) 2255.76</text>
<rect x="18.7" y="157.3" width="9.2" height="2" fill="#e00000"/>
<text x="29.7" y="161.8" font-size="9.6" fill="#e00000" stroke="#e00000" stroke-width="0.3" textLength="73.5" lengthAdjust="spacingAndGlyphs">MA(200) 2236.85</text>
<rect x="18.7" y="168.2" width="9.2" height="2" fill="#006400"/>
<text x="29.7" y="172.5" font-size="9.6" fill="#006400" stroke="#006400" stroke-width="0.3" textLength="74.6" lengthAdjust="spacingAndGlyphs">EMA(20) 2249.52</text>
<rect x="17" y="134" width="636" height="2" fill="#f00"/>
<rect x="17" y="223" width="347.5" height="2" fill="#f00"/>
<rect x="364.5" y="223" width="288.5" height="2" fill="#008000"/>
<polyline points="17,325 18.5,325.1 20,325.3 21.5,325.6 23,325.8 24.5,326.1 26,326.4 27.5,326.7 29,327 30.5,327.3 32,327.6 33.5,327.8 35,328 36.5,328.2 38,328.4 39.5,328.6 41,328.7 42.5,328.9 44,329 45.5,329.1 47,329.2 48.5,329.4 50,329.5 51.5,329.6 53.1,329.7 54.6,329.8 56.2,329.9 57.7,330 59.2,330.1 60.8,330.2 62.3,330.3 63.8,330.4 65.4,330.5 66.9,330.6 68.5,330.6 70,330.7 71.5,330.7 73,330.8 74.5,330.8 76,330.8 77.5,330.9 79,330.9 80.5,330.9 82,331 83.5,331 85,331 86.5,331 88,331.1 89.5,331.1 91,331.1 92.5,331.1 94,331.1 95.5,331.1 97,331.1 98.5,331.1 100,331.1 101.5,331.1 103,331.1 104.5,331.1 106,331.1 107.6,331.1 109.1,331.1 110.6,331.1 112.1,331.1 113.6,331.1 115.1,331 116.6,331 118.1,331 119.7,331 121.2,331 122.7,331 124.2,331 125.7,331 127.2,331 128.7,330.9 130.2,330.9 131.7,330.9 133.3,330.9 134.8,330.8 136.3,330.8 137.8,330.8 139.3,330.8 140.8,330.7 142.3,330.7 143.8,330.6 145.4,330.6 146.9,330.6 148.4,330.5 149.9,330.5 151.4,330.4 152.9,330.3 154.5,330.2 156,330.2 157.6,330.1 159.1,330 160.7,329.9 162.2,329.8 163.8,329.7 165.3,329.6 166.8,329.5 168.4,329.4 169.9,329.3 171.5,329.1 173,329 174.6,328.9 176.1,328.8 177.6,328.6 179.2,328.5 180.7,328.3 182.3,328.2 183.8,328 185.4,327.8 186.9,327.7 188.5,327.5 190,327.3 191.5,327 193,326.7 194.5,326.3 196,325.9 197.6,325.5 199.1,325.1 200.6,324.7 202.1,324.2 203.6,323.8 205.1,323.4 206.6,323 208.1,322.5 209.7,322.2 211.2,321.8 212.7,321.5 214.2,321.2 215.7,320.9 217.3,320.4 218.9,320.2 220.5,320 222.2,319.9 223.8,319.8 225.4,319.5 227,319.1 228.5,318.9 230,318.6 231.6,318.3 233.1,318 234.6,317.6 236.1,317.3 237.6,316.9 239.1,316.5 240.7,316.1 242.2,315.8 243.7,315.4 245.2,315 246.7,314.6 248.2,314.3 249.8,313.9 251.3,313.6 252.8,313.4 254.3,313.1 256.1,312.2 257.9,311.6 259.6,311.2 261.4,310.6 262.9,310.4 264.5,310.2 266,310 267.6,309.8 269.1,309.6 270.7,309.4 272.2,309.2 273.8,309 275.4,308.8 276.9,308.5 278.4,308.3 280,308 281.6,307.6 283.1,307.2 284.7,306.8 286.3,306.3 287.9,305.9 289.4,305.4 291,304.9 292.6,304.5 294.1,304.1 295.7,303.7 297.2,303.5 298.7,303.3 300.3,303 301.8,302.8 303.3,302.6 304.8,302.4 306.3,302.2 307.9,302.1 309.4,301.9 310.9,301.7 312.4,301.5 313.9,301.4 315.4,301.2 317,301 318.5,300.9 320,300.7 321.7,300.3 323.3,300 325,299.7 326.7,299.3 328.3,299 330,298.6 331.6,298.3 333.1,298.1 334.7,297.8 336.3,297.6 337.9,297.3 339.4,297 341,296.7 342.6,296.4 344.1,296 345.7,295.6 347.2,295.4 348.7,295.1 350.2,294.9 351.7,294.6 353.3,294.3 354.8,294.1 356.3,293.8 357.8,293.5 359.3,293.2 360.8,292.9 362.3,292.6 363.8,292.3 365.4,291.9 366.9,291.6 368.4,291.2 369.9,290.8 371.4,290.4 372.9,290 374.4,289.5 375.9,289.1 377.4,288.6 379,288.1 380.5,287.6 382,287 383.5,286.5 385,285.9 386.5,285.4 388,284.8 389.5,284.3 391.1,283.7 392.6,283.1 394.1,282.5 395.6,282 397.1,281.4 398.6,280.8 400.1,280.3 401.7,279.7 403.2,279.1 404.7,278.5 406.2,278 407.7,277.4 409.2,276.8 410.8,276.2 412.3,275.6 413.8,275 415.3,274.4 416.8,273.7 418.3,273.1 419.9,272.4 421.4,271.8 422.9,271.1 424.4,270.4 425.9,269.7 427.4,269 428.9,268.3 430.5,267.5 432,266.8 433.5,266 435,265.2 436.5,264.5 438,263.7 439.5,262.9 441,262.1 442.6,261.4 444.1,260.6 445.6,259.8 447.1,259.1 448.6,258.3 450.1,257.5 451.6,256.8 453.1,256 454.6,255.2 456.2,254.5 457.7,253.7 459.2,252.9 460.7,252.2 462.2,251.4 463.7,250.6 465.2,249.9 466.7,249.1 468.3,248.3 469.8,247.6 471.3,246.9 472.8,246.1 474.3,245.4 475.8,244.7 477.3,243.9 478.8,243.2 480.3,242.5 481.9,241.7 483.4,241 484.9,240.3 486.4,239.5 487.9,238.8 489.4,238.1 490.9,237.4 492.4,236.8 494,236.1 495.5,235.5 497,235 498.5,234.4 500,233.9 501.6,233.1 503.1,232.5 504.7,231.9 506.3,231.4 507.9,231 509.4,230.6 511,230.2 512.6,229.7 514.1,229.3 515.7,228.7 517.3,228.1 518.8,227.6 520.4,226.9 522,226.3 523.5,225.7 525.1,225 526.6,224.4 528.2,223.7 529.8,223.1 531.3,222.5 532.9,221.9 534.5,221.3 536,220.7 537.6,220.1 539.1,219.5 540.7,218.9 542.2,218.3 543.8,217.7 545.3,217.2 546.9,216.7 548.4,216.3 550,215.9 551.8,215.2 553.5,214.9 555.3,214.7 557.1,214.1 558.7,213.8 560.2,213.4 561.8,212.9 563.4,212.5 564.9,212 566.5,211.5 568,211 569.6,210.5 571.2,210 572.7,209.5 574.3,209 575.9,208.5 577.4,208.1 579,207.6 580.5,207.1 582.1,206.6 583.6,206.1 585.2,205.6 586.7,205.2 588.3,204.7 589.8,204.3 591.4,203.9 593,203.5 594.5,203.2 596.1,202.9 597.7,202.5 599.2,202.2 600.8,202 602.3,201.7 603.9,201.4 605.5,201.1 607,200.7 608.6,200.4 610.2,200 611.7,199.6 613.3,199.2 614.8,198.8 616.4,198.4 617.9,198 619.5,197.6 621,197.2 622.6,196.8 624.1,196.4 625.7,196.1 627.2,195.7 628.7,195.4 630.3,195.1 631.8,194.8 633.3,194.5 634.8,194.3 636.4,194 637.9,193.8 639.4,193.6 640.9,193.3 642.4,193.1 644,192.8 645.5,192.7 647,192.5 648.5,192.4" fill="none" stroke="#ee0000" stroke-width="1.15"/>
<polyline points="17,355.8 18.6,356.4 20.2,357.2 21.8,358.1 23.4,359.1 25,360 26.7,360.7 28.3,361.4 30,362.1 31.7,362.8 33.3,363.4 35,364 36.7,364.5 38.3,365 40,365.4 41.7,365.8 43.3,366.2 45,366.5 46.5,366.8 48,367.1 49.5,367.3 51,367.5 52.5,367.6 54,367.6 55.6,367.5 57.1,367.4 58.7,367.2 60.3,367 61.9,366.7 63.4,366.4 65,366 66.7,365.5 68.3,364.9 70,364.3 71.7,363.6 73.3,362.8 75,362 76.7,361.1 78.3,360.2 80,359.2 81.7,358.1 83.3,357.1 85,356 86.7,354.9 88.3,353.7 90,352.5 91.7,351.3 93.3,350.1 95,349 96.7,347.9 98.3,346.9 100,345.9 101.7,345 103.3,344 105,343 106.5,342 108,341 109.5,340 111,339 112.5,338 114,337 115.7,335.6 117.3,334.4 118.9,332.9 120.6,331.1 122.1,330.1 123.6,329.1 125.2,327.9 126.7,326.7 128.2,325.5 129.7,324.2 131.3,322.8 132.8,321.4 134.3,320 135.8,318.3 137.3,316.5 138.8,314.6 140.3,312.7 141.8,310.7 143.3,308.8 144.8,307 146.3,305.4 147.9,304.3 149.4,303.2 151,302.2 152.5,301.3 154.1,300.3 155.6,299.4 157.2,298.5 158.7,297.6 160.3,296.8 161.8,295.9 163.4,295 165,294.1 166.5,293.2 168.1,292.3 169.7,291.4 171.2,290.5 172.8,289.6 174.3,288.7 175.9,287.9 177.5,287.1 179,286.4 180.6,285.7 182.1,285 183.7,284.4 185.2,283.9 186.8,283.4 188.3,282.9 189.8,282.4 191.4,282 192.9,281.6 194.5,281.1 196,280.6 197.5,280 199,279.5 200.6,279 202.1,278.5 203.6,278 205.1,277.4 206.7,276.8 208.2,276.2 209.7,275.4 211.3,274.7 212.8,273.9 214.4,273.1 216,272.3 217.6,271.4 219.1,270.5 220.7,269.5 222.3,268.6 223.9,267.7 225.4,266.8 227,266 228.6,265.2 230.1,264.4 231.7,263.5 233.3,262.7 234.9,261.9 236.4,261.1 238,260.3 239.6,259.5 241.2,258.8 242.7,258.1 244.3,257.4 245.9,256.8 247.4,256.1 249,255.6 250.5,255 252.1,254.5 253.6,253.9 255.2,253.4 256.7,252.9 258.3,252.4 259.8,251.9 261.4,251.4 263,250.9 264.5,250.4 266.1,249.9 267.7,249.3 269.2,248.8 270.8,248.3 272.3,247.9 273.9,247.4 275.5,246.9 277,246.4 278.6,246 280.2,245.6 281.7,245.1 283.3,244.7 284.8,244.2 286.4,243.8 287.9,243.4 289.5,243 291,242.7 292.6,242.3 294.1,242 295.7,241.7 297.4,241.2 299.1,240.9 300.9,240.6 302.6,240.3 304.3,240.1 306,240 307.5,239.9 309,239.9 310.6,239.9 312.1,240 313.6,240 315.1,240.1 316.7,240.1 318.2,240.2 319.7,240.3 321.2,240.4 322.7,240.6 324.2,240.8 325.8,241 327.3,241.2 328.8,241.3 330.3,241.4 331.9,241.4 333.6,241.4 335.2,241.3 336.8,241.3 338.5,241.2 340.1,241.1 341.7,241 343.4,240.9 345,240.8 346.6,240.7 348.3,240.7 349.9,240.6 351.5,240.6 353.1,240.5 354.8,240.4 356.4,240.4 358,240.2 359.6,240.1 361.3,239.9 362.9,239.7 364.4,239.4 365.9,239 367.5,238.6 369,238.2 370.5,237.7 372,237.2 373.6,236.6 375.1,236 376.6,235.4 378.2,234.8 379.7,234.2 381.3,233.6 382.8,232.9 384.4,232.2 385.9,231.5 387.5,230.7 389,230 390.6,229.2 392.1,228.4 393.7,227.7 395.2,226.7 396.7,225.6 398.2,224.5 399.7,223.4 401.2,222.4 402.7,221.3 404.2,220.2 405.7,219.1 407.3,218.2 408.9,217.2 410.5,216.3 412.1,215.4 413.6,214.5 415.2,213.5 416.8,212.6 418.4,211.6 420,210.6 421.6,209.2 423.3,207.8 424.9,206.3 426.5,204.9 428.1,203.5 429.8,202.1 431.4,200.9 433.3,198.5 435.2,196.5 437.1,194.6 439,192.6 441,190.7 442.9,188.9 444.8,187.5 446.7,186.2 448.6,184.9 450.5,183.4 452.4,181.8 454.3,180.3 456.2,178.9 458.1,177.6 460,176.3 461.9,175.1 463.8,174 465.7,172.9 467.6,171.7 469.5,170.6 471.4,169.4 473.3,168.2 475.2,167.1 477.1,166 479,165.1 481,164.3 482.9,163.5 484.8,162.8 486.7,162.1 488.6,161.4 490.5,160.8 492.4,160.2 494.3,159.7 496.2,159.2 498.1,158.7 500,158.2 501.8,157.8 503.6,157.5 505.3,157.1 507.1,156.7 508.6,156.5 510.1,156.2 511.6,156 513.1,155.7 514.6,155.5 516.1,155.2 517.6,154.9 519.1,154.7 520.6,154.5 522.2,154.3 523.7,154 525.2,153.8 526.8,153.6 528.3,153.4 529.8,153.2 531.4,153 532.9,152.9 534.6,152.8 536.3,152.7 538,152.7 539.7,152.7 541.4,152.9 543.2,153.2 545,153.6 546.7,154.1 548.5,154.6 550.3,155 551.8,155.2 553.3,155.4 554.8,155.6 556.3,155.8 557.8,156 559.3,156.1 560.8,156.2 562.3,156.2 563.8,156.2 565.3,156.1 566.8,155.9 568.3,155.7 569.8,155.5 571.3,155.3 572.8,155.2 574.3,155 576,154.8 577.7,154.5 579.5,154.3 581.2,154.2 582.9,154.1 584.4,154.1 585.9,154.2 587.4,154.3 588.9,154.4 590.4,154.5 591.9,154.7 593.4,154.8 594.9,155 596.4,155.1 597.9,155.3 599.5,155.4 601,155.6 602.5,155.8 604,156 605.6,156.2 607.1,156.4 608.6,156.7 610.1,157 611.6,157.3 613.2,157.7 614.7,158.1 616.2,158.5 617.7,158.9 619.3,159.3 620.8,159.7 622.3,160.1 623.8,160.6 625.3,161.1 626.8,161.6 628.3,162.1 629.8,162.7 631.3,163.2 632.8,163.7 634.3,164.1 635.8,164.5 637.3,164.8 638.9,165.2 640.4,165.5 641.9,165.8 643.4,166.1 645,166.3 646.5,166.5 648,166.7" fill="none" stroke="#00008b" stroke-width="1.2"/>
<polyline points="17,383.9 18.5,384.3 20.1,384.9 21.6,385.7 23.2,386.4 24.7,387.1 26.3,388.1 27.9,389.2 29.5,390.1 31.1,390.5 33.3,387.6 35.1,385.3 37,382.3 38.9,379.1 40.7,376.4 42.5,373.7 44.3,371.5 46.1,369.4 47.9,367.4 49.6,365.5 51.4,363.5 53.2,361 55,358.4 56.8,356 58.6,354.1 60.3,352.3 62.1,350.7 63.9,349.1 65.7,347.6 67.5,345.9 69.1,344.4 70.7,342.7 72.3,340 73.8,337.5 75.4,334.4 76.9,331.1 78.5,327.8 80,325 81.8,322.1 83.5,319.5 85.2,317.2 87,315 88.8,312.9 90.5,311.1 92.2,309.4 94,308 95.7,307.2 97.3,306.6 99,306.1 100.7,305.7 102.3,305.4 104,305 105.7,304.7 107.3,304.5 109,304.3 110.7,304.1 112.3,303.9 114,303.7 115.6,303.3 117.2,302.9 118.9,302.4 120.5,302 122.2,301.8 124,301.6 125.7,301.3 127.4,300.3 129,299.7 130.5,298.9 132.1,298 133.6,297 135.2,296 136.8,294.9 138.3,293.9 139.9,292.8 141.4,291.9 143,291 144.5,290.2 146.1,289.5 147.6,288.8 149.1,288.2 150.7,287.6 152.2,286.9 153.7,286.3 155.2,285.6 156.8,284.8 158.3,284 159.9,283.2 161.4,282.2 163,281.2 164.5,280.2 166.1,279.1 167.6,278.1 169.2,277 170.7,276.1 172.3,275.2 173.8,274.4 175.4,273.7 177,273.1 178.5,272.8 180.1,272.5 181.6,272.3 183.2,272.2 184.8,272.1 186.3,272 187.9,271.8 189.4,271.5 191,271 192.5,270.2 194,269.2 195.5,268.1 197,266.9 198.5,265.7 200,264.5 201.5,263.5 203,262.6 204.8,261.2 206.5,260.2 208.2,259.3 210,258.3 211.7,257.5 213.3,256.6 215,255.7 216.7,254.9 218.3,254.1 220,253.5 221.8,253 223.5,252.9 225.2,252.7 227,252.3 228.7,251.8 230.5,251.2 232.2,250.6 233.9,249.8 235.7,249 237.4,248 238.9,247.1 240.4,246.1 241.9,244.9 243.4,243.7 244.9,242.6 246.4,241.5 247.9,240.5 249.4,239.8 251.1,239.2 252.8,238.8 254.5,238.6 256.3,238.4 258,238.3 259.7,238.2 261.4,238 263.1,237.7 264.8,237.4 266.5,237.1 268.3,236.8 270,236.5 271.7,236.3 273.2,236.2 274.7,236 276.2,236 277.7,235.9 279.2,235.8 280.7,235.7 282.2,235.6 283.7,235.5 285.4,235.2 287.1,234.8 288.9,234.4 290.6,234.2 292.3,234.3 294,234.7 295.7,235.3 297.5,236 299.2,236.8 300.9,237.7 302.6,238.6 304.1,239.2 305.6,239.8 307.2,240.5 308.7,241.2 310.2,241.9 311.7,242.7 313.3,243.3 314.8,244 316.3,244.6 317.8,245.3 319.4,246 320.9,246.7 322.5,247.4 324,248 325.5,248.5 327.1,248.9 328.6,249 330.3,248.7 332,248 333.6,247 335.3,245.9 337,244.9 338.6,244.5 340.1,244 341.7,243.6 343.3,243.1 344.9,242.6 346.4,242.1 348,241.6 349.6,241.1 351.2,240.7 352.7,240.2 354.3,239.7 355.8,239.1 357.3,238.6 358.8,238.1 360.3,237.6 361.8,237 363.3,236.4 364.8,235.6 366.3,234.6 368,232.8 369.7,230.6 371.5,228.2 373.2,225.6 374.9,222.6 376.4,220.8 377.9,218.7 379.5,216.6 381,214.3 382.5,212 384,209.7 385.6,207.6 387.1,205.5 388.6,203.7 390.3,201.3 392,199.2 393.8,197.3 395.5,195.4 397.2,193.6 398.9,191.7 400.4,190.2 401.9,188.5 403.4,186.9 404.9,185.3 406.4,183.7 407.9,182.2 409.4,180.9 410.9,179.7 412.4,178.8 413.9,178 415.4,177.4 416.9,176.9 418.4,176.5 419.9,176 421.4,175.4 422.9,174.6 424.6,173.1 426.3,171.3 428,169.4 429.7,167.6 431.4,166 433.2,163.7 435.1,161.8 436.9,160.1 438.6,159.4 440.3,158.8 442,158.2 443.7,157.7 445.4,157.2 447.1,156.7 448.8,155.6 450.6,154.6 452.3,154.1 454,155.3 455.7,156.7 457.4,156.6 459.1,156.2 460.9,155.6 462.6,155.2 464.3,155 466,155.1 467.7,155.4 469.5,155.9 471.2,156.3 472.9,156.7 474.4,156.9 475.9,157.2 477.4,157.5 478.9,157.7 480.4,158 481.9,158.2 483.4,158.3 484.9,158.4 486.4,158.4 487.9,158.3 489.5,158.3 491,158.1 492.5,158 494,157.8 495.6,157.6 497.1,157.4 498.6,157.2 500.3,156.8 502,156.4 503.7,155.9 505.4,155.5 507.1,155 508.6,154.7 510.1,154.4 511.6,154.1 513.1,153.9 514.6,153.6 516.1,153.3 517.6,153 519.1,152.8 520.6,152.6 522.2,152.3 523.7,152.1 525.2,151.9 526.8,151.7 528.3,151.5 529.8,151.3 531.4,151.2 532.9,151.2 534.6,151.4 536.3,151.8 538,152.3 539.7,152.9 541.2,153.3 542.7,153.7 544.2,154.2 545.8,154.7 547.3,155.1 548.8,155.5 550.3,155.9 551.8,156.2 553.3,156.4 554.8,156.6 556.3,156.8 557.8,157 559.3,157.1 560.8,157.2 562.3,157.2 564,157.1 565.7,156.8 567.5,156.4 569.2,156 570.9,155.5 572.6,155 574.3,154.3 576,153.6 577.7,153 579.4,152.4 581.1,152.1 582.8,152 584.5,152.1 586.3,152.3 588,152.7 589.7,153.3 591.4,154 593.1,155 594.9,156 596.6,157.2 598.3,158.4 600,159.5 601.7,160.7 603.5,161.9 605.2,163.1 606.9,164.3 608.6,165.3 610.3,166.2 612,167 613.8,167.8 615.5,168.5 617.2,169.2 618.9,169.9 620.6,171 622.3,172 624,173 625.7,173.9 627.4,175.1 629.2,176.2 630.9,176.9 632.6,177 634.3,176.9 636,176.6 637.7,176.4 639.4,176.3 641.1,176.1 642.9,176 644.6,175.8 646.3,175.7 648,175.6" fill="none" stroke="#087008" stroke-width="1.2"/>
<g fill="#000" shape-rendering="crispEdges"><rect x="19" y="396" width="1" height="14"/><rect x="21" y="393" width="1" height="6"/><rect x="23" y="386" width="1" height="11"/><rect x="33" y="360" width="1" height="28"/><rect x="35" y="351" width="1" height="12"/><rect x="38" y="345" width="1" height="9"/><rect x="41" y="343" width="1" height="5"/><rect x="47" y="339" width="1" height="13"/><rect x="51" y="343" width="1" height="9"/><rect x="53" y="331" width="1" height="15"/><rect x="55" y="318" width="1" height="15"/><rect x="62" y="326" width="1" height="7"/><rect x="64" y="321" width="1" height="30"/><rect x="69" y="294" width="1" height="40"/><rect x="72" y="300" width="1" height="13"/><rect x="77" y="292" width="1" height="13"/><rect x="81" y="270" width="1" height="16"/><rect x="87" y="288" width="1" height="15"/><rect x="89" y="275" width="1" height="15"/><rect x="103" y="298" width="1" height="7"/><rect x="106" y="293" width="1" height="7"/><rect x="112" y="292" width="1" height="12"/><rect x="122" y="294" width="1" height="8"/><rect x="124" y="289" width="1" height="8"/><rect x="129" y="286" width="1" height="5"/><rect x="131" y="283" width="1" height="5"/><rect x="138" y="280" width="1" height="8"/><rect x="140" y="275" width="1" height="8"/><rect x="142" y="270" width="1" height="8"/><rect x="150" y="275" width="1" height="9"/><rect x="152" y="278" width="1" height="4"/><rect x="155" y="276" width="1" height="4"/><rect x="158" y="274" width="1" height="4"/><rect x="160" y="265" width="1" height="12"/><rect x="167" y="261" width="1" height="12"/><rect x="175" y="260" width="1" height="7"/><rect x="184" y="266" width="1" height="6"/><rect x="193" y="251" width="1" height="13"/><rect x="198" y="251" width="1" height="7"/><rect x="200" y="247" width="1" height="7"/><rect x="204" y="246" width="1" height="6"/><rect x="209" y="237" width="1" height="8"/><rect x="214" y="242" width="1" height="9"/><rect x="218" y="242" width="1" height="5"/><rect x="220" y="240" width="1" height="5"/><rect x="223" y="237" width="1" height="5"/><rect x="227" y="245" width="1" height="5"/><rect x="230" y="242" width="1" height="5"/><rect x="233" y="238" width="1" height="6"/><rect x="238" y="236" width="1" height="6"/><rect x="240" y="228" width="1" height="7"/><rect x="243" y="229" width="1" height="4"/><rect x="245" y="225" width="1" height="6"/><rect x="247" y="225" width="1" height="5"/><rect x="255" y="233" width="1" height="6"/><rect x="257" y="230" width="1" height="6"/><rect x="267" y="238" width="1" height="7"/><rect x="269" y="234" width="1" height="7"/><rect x="271" y="230" width="1" height="7"/><rect x="277" y="230" width="1" height="6"/><rect x="282" y="224" width="1" height="13"/><rect x="289" y="232" width="1" height="4"/><rect x="291" y="230" width="1" height="4"/><rect x="312" y="254" width="1" height="5"/><rect x="314" y="251" width="1" height="5"/><rect x="316" y="248" width="1" height="6"/><rect x="325" y="255" width="1" height="6"/><rect x="327" y="252" width="1" height="6"/><rect x="329" y="232" width="1" height="11"/><rect x="332" y="230" width="1" height="4"/><rect x="343" y="235" width="1" height="6"/><rect x="348" y="235" width="1" height="4"/><rect x="350" y="232" width="1" height="5"/><rect x="353" y="231" width="1" height="4"/><rect x="355" y="230" width="1" height="4"/><rect x="357" y="228" width="1" height="5"/><rect x="359" y="227" width="1" height="4"/><rect x="364" y="223" width="1" height="9"/><rect x="367" y="217" width="1" height="7"/><rect x="369" y="210" width="1" height="10"/><rect x="371" y="195" width="1" height="18"/><rect x="374" y="193" width="1" height="5"/><rect x="376" y="184" width="1" height="12"/><rect x="381" y="185" width="1" height="4"/><rect x="383" y="183" width="1" height="5"/><rect x="385" y="172" width="1" height="14"/><rect x="391" y="178" width="1" height="6"/><rect x="394" y="168" width="1" height="8"/><rect x="401" y="168" width="1" height="5"/><rect x="403" y="167" width="1" height="5"/><rect x="405" y="166" width="1" height="5"/><rect x="407" y="165" width="1" height="5"/><rect x="409" y="156" width="1" height="12"/><rect x="421" y="166" width="1" height="4"/><rect x="423" y="164" width="1" height="4"/><rect x="426" y="144" width="1" height="14"/><rect x="430" y="146" width="1" height="6"/><rect x="432" y="143" width="1" height="6"/><rect x="434" y="137" width="1" height="9"/><rect x="449" y="146" width="1" height="6"/><rect x="451" y="142" width="1" height="6"/><rect x="458" y="153" width="1" height="18"/><rect x="460" y="151" width="1" height="6"/><rect x="462" y="144" width="1" height="10"/><rect x="469" y="155" width="1" height="9"/><rect x="474" y="149" width="1" height="7"/><rect x="483" y="160" width="1" height="7"/><rect x="488" y="163" width="1" height="7"/><rect x="490" y="151" width="1" height="12"/><rect x="494" y="152" width="1" height="8"/><rect x="497" y="152" width="1" height="7"/><rect x="499" y="153" width="1" height="5"/><rect x="502" y="151" width="1" height="5"/><rect x="504" y="157" width="1" height="7"/><rect x="506" y="143" width="1" height="9"/><rect x="508" y="143" width="1" height="7"/><rect x="514" y="144" width="1" height="6"/><rect x="526" y="147" width="1" height="6"/><rect x="531" y="146" width="1" height="5"/><rect x="535" y="147" width="1" height="6"/><rect x="545" y="161" width="1" height="6"/><rect x="547" y="158" width="1" height="6"/><rect x="552" y="157" width="1" height="8"/><rect x="557" y="157" width="1" height="5"/><rect x="564" y="157" width="1" height="5"/><rect x="566" y="156" width="1" height="4"/><rect x="568" y="155" width="1" height="4"/><rect x="570" y="141" width="1" height="13"/><rect x="577" y="145" width="1" height="4"/><rect x="579" y="144" width="1" height="4"/><rect x="603" y="166" width="1" height="9"/><rect x="609" y="174" width="1" height="8"/><rect x="611" y="175" width="1" height="4"/><rect x="613" y="174" width="1" height="4"/><rect x="615" y="173" width="1" height="4"/><rect x="620" y="180" width="1" height="6"/><rect x="623" y="177" width="1" height="6"/><rect x="632" y="185" width="1" height="12"/><rect x="634" y="162" width="1" height="11"/><rect x="645" y="173" width="1" height="8"/><rect x="648" y="161" width="1" height="17"/></g>
<g fill="#f00" shape-rendering="crispEdges"><rect x="17" y="397" width="1" height="15"/><rect x="26" y="387" width="1" height="7"/><rect x="28" y="388" width="1" height="12"/><rect x="30" y="397" width="1" height="14"/><rect x="44" y="343" width="1" height="9"/><rect x="49" y="342" width="1" height="12"/><rect x="57" y="318" width="1" height="9"/><rect x="60" y="324" width="1" height="12"/><rect x="67" y="322" width="1" height="22"/><rect x="74" y="297" width="1" height="15"/><rect x="79" y="278" width="1" height="14"/><rect x="84" y="279" width="1" height="34"/><rect x="91" y="275" width="1" height="9"/><rect x="94" y="282" width="1" height="9"/><rect x="97" y="291" width="1" height="7"/><rect x="99" y="295" width="1" height="16"/><rect x="101" y="300" width="1" height="7"/><rect x="109" y="293" width="1" height="11"/><rect x="114" y="284" width="1" height="16"/><rect x="117" y="295" width="1" height="6"/><rect x="120" y="298" width="1" height="8"/><rect x="127" y="288" width="1" height="11"/><rect x="133" y="281" width="1" height="5"/><rect x="136" y="283" width="1" height="5"/><rect x="144" y="273" width="1" height="6"/><rect x="146" y="276" width="1" height="6"/><rect x="148" y="272" width="1" height="9"/><rect x="163" y="265" width="1" height="5"/><rect x="165" y="268" width="1" height="5"/><rect x="170" y="261" width="1" height="5"/><rect x="172" y="263" width="1" height="4"/><rect x="177" y="257" width="1" height="8"/><rect x="179" y="263" width="1" height="8"/><rect x="182" y="267" width="1" height="6"/><rect x="186" y="265" width="1" height="4"/><rect x="188" y="266" width="1" height="4"/><rect x="191" y="267" width="1" height="4"/><rect x="195" y="252" width="1" height="7"/><rect x="202" y="246" width="1" height="5"/><rect x="206" y="247" width="1" height="6"/><rect x="212" y="238" width="1" height="13"/><rect x="216" y="245" width="1" height="9"/><rect x="225" y="243" width="1" height="9"/><rect x="235" y="237" width="1" height="6"/><rect x="250" y="228" width="1" height="7"/><rect x="252" y="232" width="1" height="8"/><rect x="259" y="230" width="1" height="4"/><rect x="261" y="231" width="1" height="5"/><rect x="263" y="233" width="1" height="9"/><rect x="265" y="239" width="1" height="9"/><rect x="274" y="229" width="1" height="5"/><rect x="280" y="229" width="1" height="11"/><rect x="284" y="227" width="1" height="6"/><rect x="287" y="230" width="1" height="6"/><rect x="294" y="231" width="1" height="12"/><rect x="296" y="238" width="1" height="9"/><rect x="299" y="241" width="1" height="11"/><rect x="302" y="243" width="1" height="10"/><rect x="305" y="248" width="1" height="6"/><rect x="307" y="252" width="1" height="10"/><rect x="310" y="255" width="1" height="5"/><rect x="318" y="248" width="1" height="6"/><rect x="321" y="251" width="1" height="6"/><rect x="323" y="254" width="1" height="6"/><rect x="335" y="232" width="1" height="4"/><rect x="337" y="234" width="1" height="8"/><rect x="340" y="236" width="1" height="5"/><rect x="346" y="232" width="1" height="6"/><rect x="361" y="226" width="1" height="6"/><rect x="378" y="182" width="1" height="9"/><rect x="388" y="171" width="1" height="14"/><rect x="396" y="168" width="1" height="4"/><rect x="399" y="169" width="1" height="4"/><rect x="412" y="154" width="1" height="12"/><rect x="415" y="162" width="1" height="5"/><rect x="418" y="165" width="1" height="6"/><rect x="428" y="145" width="1" height="10"/><rect x="437" y="139" width="1" height="5"/><rect x="439" y="142" width="1" height="5"/><rect x="441" y="143" width="1" height="6"/><rect x="444" y="146" width="1" height="6"/><rect x="447" y="148" width="1" height="7"/><rect x="453" y="138" width="1" height="27"/><rect x="456" y="156" width="1" height="20"/><rect x="465" y="149" width="1" height="9"/><rect x="467" y="155" width="1" height="9"/><rect x="472" y="155" width="1" height="6"/><rect x="476" y="150" width="1" height="5"/><rect x="478" y="153" width="1" height="5"/><rect x="481" y="155" width="1" height="11"/><rect x="485" y="161" width="1" height="8"/><rect x="492" y="149" width="1" height="8"/><rect x="511" y="143" width="1" height="9"/><rect x="517" y="145" width="1" height="5"/><rect x="519" y="148" width="1" height="5"/><rect x="522" y="144" width="1" height="7"/><rect x="524" y="146" width="1" height="6"/><rect x="528" y="148" width="1" height="6"/><rect x="533" y="147" width="1" height="5"/><rect x="538" y="155" width="1" height="8"/><rect x="540" y="158" width="1" height="6"/><rect x="543" y="161" width="1" height="6"/><rect x="549" y="157" width="1" height="4"/><rect x="554" y="155" width="1" height="6"/><rect x="559" y="158" width="1" height="4"/><rect x="562" y="159" width="1" height="4"/><rect x="572" y="141" width="1" height="5"/><rect x="575" y="143" width="1" height="6"/><rect x="582" y="143" width="1" height="5"/><rect x="584" y="145" width="1" height="4"/><rect x="586" y="144" width="1" height="17"/><rect x="588" y="157" width="1" height="4"/><rect x="590" y="158" width="1" height="4"/><rect x="592" y="159" width="1" height="13"/><rect x="595" y="167" width="1" height="5"/><rect x="597" y="169" width="1" height="4"/><rect x="599" y="171" width="1" height="4"/><rect x="601" y="169" width="1" height="10"/><rect x="605" y="171" width="1" height="6"/><rect x="607" y="174" width="1" height="6"/><rect x="617" y="169" width="1" height="16"/><rect x="626" y="178" width="1" height="11"/><rect x="629" y="186" width="1" height="12"/><rect x="636" y="155" width="1" height="18"/><rect x="638" y="168" width="1" height="15"/><rect x="641" y="173" width="1" height="6"/><rect x="643" y="176" width="1" height="6"/></g>
<g fill="#000" shape-rendering="crispEdges"><rect x="18" y="397" width="3" height="11"/><rect x="20" y="394" width="3" height="4"/><rect x="22" y="388" width="3" height="8"/><rect x="32" y="361" width="3" height="26"/><rect x="34" y="352" width="3" height="9"/><rect x="37" y="346" width="3" height="7"/><rect x="40" y="344" width="3" height="2"/><rect x="46" y="341" width="3" height="10"/><rect x="50" y="344" width="3" height="7"/><rect x="52" y="332" width="3" height="13"/><rect x="54" y="319" width="3" height="13"/><rect x="61" y="327" width="3" height="5"/><rect x="63" y="322" width="3" height="5"/><rect x="68" y="296" width="3" height="37"/><rect x="71" y="303" width="3" height="3"/><rect x="76" y="294" width="3" height="10"/><rect x="80" y="273" width="3" height="12"/><rect x="86" y="289" width="3" height="13"/><rect x="88" y="276" width="3" height="13"/><rect x="102" y="299" width="3" height="5"/><rect x="105" y="294" width="3" height="5"/><rect x="111" y="293" width="3" height="10"/><rect x="121" y="296" width="3" height="5"/><rect x="123" y="290" width="3" height="6"/><rect x="128" y="287" width="3" height="3"/><rect x="130" y="284" width="3" height="3"/><rect x="137" y="282" width="3" height="5"/><rect x="139" y="276" width="3" height="6"/><rect x="141" y="271" width="3" height="5"/><rect x="149" y="276" width="3" height="6"/><rect x="151" y="279" width="3" height="2"/><rect x="154" y="277" width="3" height="2"/><rect x="157" y="275" width="3" height="2"/><rect x="159" y="266" width="3" height="10"/><rect x="166" y="262" width="3" height="10"/><rect x="174" y="261" width="3" height="5"/><rect x="183" y="267" width="3" height="3"/><rect x="192" y="252" width="3" height="10"/><rect x="197" y="252" width="3" height="5"/><rect x="199" y="248" width="3" height="4"/><rect x="203" y="248" width="3" height="3"/><rect x="208" y="238" width="3" height="6"/><rect x="213" y="243" width="3" height="7"/><rect x="217" y="244" width="3" height="2"/><rect x="219" y="241" width="3" height="3"/><rect x="222" y="239" width="3" height="2"/><rect x="226" y="246" width="3" height="3"/><rect x="229" y="243" width="3" height="3"/><rect x="232" y="240" width="3" height="3"/><rect x="237" y="237" width="3" height="4"/><rect x="239" y="229" width="3" height="5"/><rect x="242" y="230" width="3" height="2"/><rect x="244" y="228" width="3" height="2"/><rect x="246" y="227" width="3" height="1"/><rect x="254" y="234" width="3" height="4"/><rect x="256" y="231" width="3" height="3"/><rect x="266" y="239" width="3" height="5"/><rect x="268" y="235" width="3" height="4"/><rect x="270" y="231" width="3" height="5"/><rect x="276" y="231" width="3" height="3"/><rect x="281" y="226" width="3" height="10"/><rect x="288" y="233" width="3" height="1"/><rect x="290" y="232" width="3" height="1"/><rect x="311" y="255" width="3" height="2"/><rect x="313" y="252" width="3" height="3"/><rect x="315" y="250" width="3" height="2"/><rect x="324" y="256" width="3" height="4"/><rect x="326" y="253" width="3" height="3"/><rect x="328" y="233" width="3" height="9"/><rect x="331" y="231" width="3" height="2"/><rect x="342" y="236" width="3" height="4"/><rect x="347" y="236" width="3" height="2"/><rect x="349" y="234" width="3" height="2"/><rect x="352" y="232" width="3" height="2"/><rect x="354" y="231" width="3" height="2"/><rect x="356" y="230" width="3" height="1"/><rect x="358" y="228" width="3" height="2"/><rect x="363" y="224" width="3" height="7"/><rect x="366" y="218" width="3" height="5"/><rect x="368" y="211" width="3" height="8"/><rect x="370" y="196" width="3" height="15"/><rect x="373" y="194" width="3" height="3"/><rect x="375" y="186" width="3" height="9"/><rect x="380" y="186" width="3" height="2"/><rect x="382" y="185" width="3" height="1"/><rect x="384" y="173" width="3" height="12"/><rect x="390" y="179" width="3" height="3"/><rect x="393" y="169" width="3" height="6"/><rect x="400" y="170" width="3" height="1"/><rect x="402" y="169" width="3" height="1"/><rect x="404" y="168" width="3" height="1"/><rect x="406" y="167" width="3" height="1"/><rect x="408" y="157" width="3" height="10"/><rect x="420" y="167" width="3" height="2"/><rect x="422" y="165" width="3" height="2"/><rect x="425" y="145" width="3" height="12"/><rect x="429" y="148" width="3" height="3"/><rect x="431" y="145" width="3" height="3"/><rect x="433" y="138" width="3" height="7"/><rect x="448" y="147" width="3" height="4"/><rect x="450" y="143" width="3" height="4"/><rect x="457" y="154" width="3" height="16"/><rect x="459" y="152" width="3" height="4"/><rect x="461" y="149" width="3" height="3"/><rect x="468" y="157" width="3" height="6"/><rect x="473" y="150" width="3" height="5"/><rect x="482" y="161" width="3" height="5"/><rect x="487" y="164" width="3" height="4"/><rect x="489" y="152" width="3" height="10"/><rect x="493" y="153" width="3" height="6"/><rect x="496" y="153" width="3" height="5"/><rect x="498" y="155" width="3" height="2"/><rect x="501" y="152" width="3" height="3"/><rect x="503" y="158" width="3" height="5"/><rect x="505" y="144" width="3" height="7"/><rect x="507" y="145" width="3" height="4"/><rect x="513" y="146" width="3" height="3"/><rect x="525" y="148" width="3" height="4"/><rect x="530" y="147" width="3" height="3"/><rect x="534" y="149" width="3" height="3"/><rect x="544" y="162" width="3" height="3"/><rect x="546" y="159" width="3" height="3"/><rect x="551" y="158" width="3" height="6"/><rect x="556" y="158" width="3" height="3"/><rect x="563" y="159" width="3" height="1"/><rect x="565" y="158" width="3" height="1"/><rect x="567" y="156" width="3" height="2"/><rect x="569" y="142" width="3" height="10"/><rect x="576" y="146" width="3" height="2"/><rect x="578" y="145" width="3" height="2"/><rect x="602" y="167" width="3" height="7"/><rect x="608" y="176" width="3" height="5"/><rect x="610" y="176" width="3" height="2"/><rect x="612" y="175" width="3" height="2"/><rect x="614" y="174" width="3" height="2"/><rect x="619" y="182" width="3" height="3"/><rect x="622" y="178" width="3" height="4"/><rect x="631" y="187" width="3" height="8"/><rect x="633" y="164" width="3" height="8"/><rect x="644" y="175" width="3" height="5"/><rect x="647" y="163" width="3" height="13"/></g>
<g fill="#e6e6c0" shape-rendering="crispEdges"><rect x="53" y="333" width="1" height="11"/><rect x="55" y="320" width="1" height="11"/><rect x="62" y="328" width="1" height="3"/><rect x="64" y="323" width="1" height="3"/><rect x="81" y="274" width="1" height="10"/><rect x="87" y="290" width="1" height="11"/><rect x="89" y="277" width="1" height="11"/><rect x="103" y="300" width="1" height="3"/><rect x="106" y="295" width="1" height="3"/><rect x="122" y="297" width="1" height="3"/><rect x="124" y="291" width="1" height="4"/><rect x="138" y="283" width="1" height="3"/><rect x="140" y="277" width="1" height="4"/><rect x="142" y="272" width="1" height="3"/><rect x="150" y="277" width="1" height="4"/><rect x="198" y="253" width="1" height="3"/><rect x="214" y="244" width="1" height="5"/><rect x="267" y="240" width="1" height="3"/><rect x="483" y="162" width="1" height="3"/><rect x="494" y="154" width="1" height="4"/><rect x="603" y="168" width="1" height="5"/></g>
<g fill="#f00" shape-rendering="crispEdges"><rect x="16" y="398" width="3" height="12"/><rect x="25" y="388" width="3" height="4"/><rect x="27" y="390" width="3" height="9"/><rect x="29" y="398" width="3" height="12"/><rect x="43" y="344" width="3" height="7"/><rect x="48" y="343" width="3" height="9"/><rect x="56" y="319" width="3" height="7"/><rect x="59" y="326" width="3" height="6"/><rect x="66" y="324" width="3" height="8"/><rect x="73" y="298" width="3" height="4"/><rect x="78" y="279" width="3" height="12"/><rect x="83" y="280" width="3" height="32"/><rect x="90" y="276" width="3" height="7"/><rect x="93" y="283" width="3" height="7"/><rect x="96" y="292" width="3" height="5"/><rect x="98" y="297" width="3" height="4"/><rect x="100" y="301" width="3" height="5"/><rect x="108" y="294" width="3" height="9"/><rect x="113" y="286" width="3" height="13"/><rect x="116" y="296" width="3" height="4"/><rect x="119" y="300" width="3" height="3"/><rect x="126" y="289" width="3" height="9"/><rect x="132" y="282" width="3" height="2"/><rect x="135" y="284" width="3" height="3"/><rect x="143" y="274" width="3" height="4"/><rect x="145" y="278" width="3" height="3"/><rect x="147" y="274" width="3" height="6"/><rect x="162" y="266" width="3" height="3"/><rect x="164" y="269" width="3" height="3"/><rect x="169" y="262" width="3" height="2"/><rect x="171" y="264" width="3" height="2"/><rect x="176" y="258" width="3" height="6"/><rect x="178" y="264" width="3" height="6"/><rect x="181" y="269" width="3" height="3"/><rect x="185" y="266" width="3" height="1"/><rect x="187" y="267" width="3" height="2"/><rect x="190" y="269" width="3" height="1"/><rect x="194" y="253" width="3" height="5"/><rect x="201" y="247" width="3" height="3"/><rect x="205" y="249" width="3" height="3"/><rect x="211" y="239" width="3" height="11"/><rect x="215" y="247" width="3" height="6"/><rect x="224" y="245" width="3" height="6"/><rect x="234" y="239" width="3" height="3"/><rect x="249" y="229" width="3" height="5"/><rect x="251" y="234" width="3" height="5"/><rect x="258" y="231" width="3" height="2"/><rect x="260" y="233" width="3" height="1"/><rect x="262" y="234" width="3" height="6"/><rect x="264" y="240" width="3" height="6"/><rect x="273" y="230" width="3" height="3"/><rect x="279" y="230" width="3" height="9"/><rect x="283" y="228" width="3" height="3"/><rect x="286" y="231" width="3" height="3"/><rect x="293" y="233" width="3" height="9"/><rect x="295" y="239" width="3" height="6"/><rect x="298" y="242" width="3" height="9"/><rect x="301" y="245" width="3" height="6"/><rect x="304" y="250" width="3" height="3"/><rect x="306" y="253" width="3" height="3"/><rect x="309" y="256" width="3" height="3"/><rect x="317" y="250" width="3" height="3"/><rect x="320" y="253" width="3" height="2"/><rect x="322" y="255" width="3" height="3"/><rect x="334" y="233" width="3" height="2"/><rect x="336" y="235" width="3" height="2"/><rect x="339" y="237" width="3" height="3"/><rect x="345" y="234" width="3" height="3"/><rect x="360" y="227" width="3" height="4"/><rect x="377" y="183" width="3" height="7"/><rect x="387" y="172" width="3" height="9"/><rect x="395" y="169" width="3" height="2"/><rect x="398" y="171" width="3" height="1"/><rect x="411" y="156" width="3" height="8"/><rect x="414" y="163" width="3" height="3"/><rect x="417" y="166" width="3" height="3"/><rect x="427" y="146" width="3" height="5"/><rect x="436" y="140" width="3" height="3"/><rect x="438" y="143" width="3" height="3"/><rect x="440" y="145" width="3" height="3"/><rect x="443" y="148" width="3" height="3"/><rect x="446" y="149" width="3" height="4"/><rect x="452" y="144" width="3" height="20"/><rect x="455" y="158" width="3" height="12"/><rect x="464" y="150" width="3" height="6"/><rect x="466" y="156" width="3" height="7"/><rect x="471" y="157" width="3" height="2"/><rect x="475" y="152" width="3" height="2"/><rect x="477" y="154" width="3" height="3"/><rect x="480" y="157" width="3" height="7"/><rect x="484" y="163" width="3" height="4"/><rect x="491" y="150" width="3" height="6"/><rect x="510" y="145" width="3" height="6"/><rect x="516" y="146" width="3" height="3"/><rect x="518" y="149" width="3" height="3"/><rect x="521" y="146" width="3" height="4"/><rect x="523" y="147" width="3" height="3"/><rect x="527" y="149" width="3" height="4"/><rect x="532" y="148" width="3" height="3"/><rect x="537" y="156" width="3" height="6"/><rect x="539" y="159" width="3" height="3"/><rect x="542" y="162" width="3" height="3"/><rect x="548" y="158" width="3" height="2"/><rect x="553" y="157" width="3" height="3"/><rect x="558" y="159" width="3" height="2"/><rect x="561" y="160" width="3" height="2"/><rect x="571" y="142" width="3" height="3"/><rect x="574" y="145" width="3" height="2"/><rect x="581" y="145" width="3" height="1"/><rect x="583" y="146" width="3" height="2"/><rect x="585" y="146" width="3" height="13"/><rect x="587" y="158" width="3" height="2"/><rect x="589" y="160" width="3" height="1"/><rect x="591" y="160" width="3" height="10"/><rect x="594" y="169" width="3" height="1"/><rect x="596" y="170" width="3" height="2"/><rect x="598" y="172" width="3" height="2"/><rect x="600" y="170" width="3" height="7"/><rect x="604" y="172" width="3" height="4"/><rect x="606" y="176" width="3" height="3"/><rect x="616" y="170" width="3" height="13"/><rect x="625" y="179" width="3" height="9"/><rect x="628" y="188" width="3" height="7"/><rect x="635" y="165" width="3" height="6"/><rect x="637" y="170" width="3" height="12"/><rect x="640" y="175" width="3" height="3"/><rect x="642" y="178" width="3" height="3"/></g>
<line x1="385.5" y1="172" x2="437.4" y2="136.2" stroke="#f0f" stroke-width="2.2"/>
</g>
<rect x="348.5" y="349.5" width="250" height="23" fill="#8a8a7a" opacity="0.55"/>
<rect x="346.5" y="347.5" width="250" height="23" fill="#fff" stroke="#888"/>
<text x="348.8" y="363.1" font-size="15.5" font-weight="bold" fill="#3d7f8d" textLength="235.5" lengthAdjust="spacingAndGlyphs">S&amp;P 500 2 Month 60 Minute Chart</text>
<g>
<path d="M287 89.5H377.2L417.4 51.6 382.5 95 382 98.5 382.5 102 413.3 152.7 377.2 108H287z" fill="#666" opacity="0.32"/>
<path d="M285 87.5H375.2L415.4 49.6 380.5 93 380 96.5 380.5 100 411.3 150.7 375.2 106H285z" fill="#fff" stroke="#a0a0a0" stroke-width="1"/>
<path d="M415.4 49.6L380.5 93 378.6 90.2z" fill="#8c8c8c" opacity="0.6"/>
<path d="M411.3 150.7L380.5 100 377.5 101.8z" fill="#8c8c8c" opacity="0.5"/>
<text x="286.7" y="100.6" font-size="12" font-weight="bold" fill="#f0f" textLength="85.4" lengthAdjust="spacingAndGlyphs">Neg Divergence</text>
</g>
<g fill="#4c9a48" stroke="#1f6b24" stroke-width="0.7"><rect x="18.5" y="519.9" width="2.5" height="11.6"/><rect x="21" y="522.9" width="2.5" height="8.6"/><rect x="23.5" y="525.1" width="2.5" height="6.4"/><rect x="32.9" y="522.9" width="2.5" height="8.6"/><rect x="35.1" y="522.9" width="2.5" height="8.6"/><rect x="37.4" y="525.1" width="2.5" height="6.4"/><rect x="39.5" y="526.3" width="2.5" height="5.2"/><rect x="41.3" y="527.4" width="2.5" height="4.1"/><rect x="46.1" y="514.9" width="2.5" height="16.6"/><rect x="50.7" y="522.9" width="2.5" height="8.6"/><rect x="53.2" y="522.9" width="2.5" height="8.6"/><rect x="55.5" y="525.1" width="2.5" height="6.4"/><rect x="62.1" y="514.9" width="2.5" height="16.6"/><rect x="64.4" y="506.2" width="2.5" height="25.3"/><rect x="69.4" y="518.3" width="2.5" height="13.2"/><rect x="71.5" y="521.7" width="2.5" height="9.8"/><rect x="75.6" y="520.6" width="2.5" height="10.9"/><rect x="80.4" y="513.7" width="2.5" height="17.8"/><rect x="85.2" y="516" width="2.5" height="15.5"/><rect x="87.5" y="520.6" width="2.5" height="10.9"/><rect x="89.5" y="521.7" width="2.5" height="9.8"/><rect x="101.2" y="521.7" width="2.5" height="9.8"/><rect x="103.5" y="523.5" width="2.5" height="8"/><rect x="110.3" y="514.2" width="2.5" height="17.3"/><rect x="117.2" y="520.6" width="2.5" height="10.9"/><rect x="121.8" y="522.9" width="2.5" height="8.6"/><rect x="124.1" y="522.9" width="2.5" height="8.6"/><rect x="128.6" y="520.6" width="2.5" height="10.9"/><rect x="130.9" y="519" width="2.5" height="12.5"/><rect x="137.8" y="523.5" width="2.5" height="8"/><rect x="140.1" y="522.9" width="2.5" height="8.6"/><rect x="142.3" y="513" width="2.5" height="18.5"/><rect x="146.9" y="521" width="2.5" height="10.5"/><rect x="151.5" y="526.3" width="2.5" height="5.2"/><rect x="153.8" y="525.8" width="2.5" height="5.7"/><rect x="156.1" y="525.1" width="2.5" height="6.4"/><rect x="158.3" y="516" width="2.5" height="15.5"/><rect x="167.5" y="525.1" width="2.5" height="6.4"/><rect x="174.2" y="516" width="2.5" height="15.5"/><rect x="183.4" y="526.3" width="2.5" height="5.2"/><rect x="192.5" y="524" width="2.5" height="7.5"/><rect x="197.1" y="525.1" width="2.5" height="6.4"/><rect x="199.4" y="527.4" width="2.5" height="4.1"/><rect x="206.2" y="518.3" width="2.5" height="13.2"/><rect x="208.5" y="523.5" width="2.5" height="8"/><rect x="215.4" y="526.7" width="2.5" height="4.8"/><rect x="217.7" y="525.8" width="2.5" height="5.7"/><rect x="219.9" y="525.1" width="2.5" height="6.4"/><rect x="222.2" y="517.1" width="2.5" height="14.4"/><rect x="226.8" y="522.9" width="2.5" height="8.6"/><rect x="229.1" y="525.1" width="2.5" height="6.4"/><rect x="231.4" y="526.3" width="2.5" height="5.2"/><rect x="235.9" y="526.3" width="2.5" height="5.2"/><rect x="238.2" y="520.1" width="2.5" height="11.4"/><rect x="240.5" y="526.3" width="2.5" height="5.2"/><rect x="242.8" y="526.3" width="2.5" height="5.2"/><rect x="245.1" y="526.7" width="2.5" height="4.8"/><rect x="247.4" y="524" width="2.5" height="7.5"/><rect x="254.2" y="525.1" width="2.5" height="6.4"/><rect x="256.5" y="527.4" width="2.5" height="4.1"/><rect x="267.9" y="522.9" width="2.5" height="8.6"/><rect x="270.2" y="524" width="2.5" height="7.5"/><rect x="274.8" y="527.4" width="2.5" height="4.1"/><rect x="281.7" y="521.3" width="2.5" height="10.2"/><rect x="288.5" y="525.1" width="2.5" height="6.4"/><rect x="290.8" y="526.3" width="2.5" height="5.2"/><rect x="297.7" y="520.6" width="2.5" height="10.9"/><rect x="302.2" y="521.3" width="2.5" height="10.2"/><rect x="309.1" y="524" width="2.5" height="7.5"/><rect x="313.7" y="521.7" width="2.5" height="9.8"/><rect x="315.9" y="521.3" width="2.5" height="10.2"/><rect x="325.6" y="516" width="2.5" height="15.5"/><rect x="328.4" y="498.9" width="2.5" height="32.6"/><rect x="331.3" y="482.9" width="2.5" height="48.6"/><rect x="343.2" y="458.9" width="2.5" height="72.6"/><rect x="348" y="489.7" width="2.5" height="41.8"/><rect x="350.8" y="497.7" width="2.5" height="33.8"/><rect x="353" y="502.3" width="2.5" height="29.2"/><rect x="356" y="497.7" width="2.5" height="33.8"/><rect x="359" y="458.9" width="2.5" height="72.6"/><rect x="364" y="481.7" width="2.5" height="49.8"/><rect x="366.8" y="489.7" width="2.5" height="41.8"/><rect x="369" y="498.9" width="2.5" height="32.6"/><rect x="370.9" y="487.9" width="2.5" height="43.6"/><rect x="373.1" y="489.3" width="2.5" height="42.2"/><rect x="375.2" y="441" width="2.5" height="90.5"/><rect x="380" y="482.9" width="2.5" height="48.6"/><rect x="382.8" y="492" width="2.5" height="39.5"/><rect x="385" y="500" width="2.5" height="31.5"/><rect x="386.6" y="497.7" width="2.5" height="33.8"/><rect x="391.2" y="458.9" width="2.5" height="72.6"/><rect x="393.7" y="500" width="2.5" height="31.5"/><rect x="400.6" y="500" width="2.5" height="31.5"/><rect x="402.6" y="504.6" width="2.5" height="26.9"/><rect x="404.9" y="501.1" width="2.5" height="30.4"/><rect x="407.2" y="466.9" width="2.5" height="64.6"/><rect x="409.5" y="494.3" width="2.5" height="37.2"/><rect x="420.9" y="497.7" width="2.5" height="33.8"/><rect x="423.2" y="463.9" width="2.5" height="67.6"/><rect x="425.5" y="498.9" width="2.5" height="32.6"/><rect x="430.8" y="493.1" width="2.5" height="38.4"/><rect x="433" y="498.9" width="2.5" height="32.6"/><rect x="434.9" y="501.1" width="2.5" height="30.4"/><rect x="448.4" y="504.6" width="2.5" height="26.9"/><rect x="450.2" y="503" width="2.5" height="28.5"/><rect x="457.5" y="494.3" width="2.5" height="37.2"/><rect x="459.8" y="480.1" width="2.5" height="51.4"/><rect x="462.3" y="489.7" width="2.5" height="41.8"/><rect x="468.8" y="500" width="2.5" height="31.5"/><rect x="473.3" y="471.9" width="2.5" height="59.6"/><rect x="484.8" y="500" width="2.5" height="31.5"/><rect x="489.3" y="505.3" width="2.5" height="26.2"/><rect x="491.6" y="495" width="2.5" height="36.5"/><rect x="496.6" y="506.9" width="2.5" height="24.6"/><rect x="498.5" y="508.5" width="2.5" height="23"/><rect x="503" y="477.1" width="2.5" height="54.4"/><rect x="505.3" y="503.4" width="2.5" height="28.1"/><rect x="507.6" y="496.1" width="2.5" height="35.4"/><rect x="512.6" y="509.1" width="2.5" height="22.4"/><rect x="514.5" y="509.1" width="2.5" height="22.4"/><rect x="519" y="479" width="2.5" height="52.5"/><rect x="526.4" y="506.2" width="2.5" height="25.3"/><rect x="528.2" y="511.4" width="2.5" height="20.1"/><rect x="532.8" y="508" width="2.5" height="23.5"/><rect x="544.6" y="509.1" width="2.5" height="22.4"/><rect x="546.9" y="511.4" width="2.5" height="20.1"/><rect x="551" y="482.9" width="2.5" height="48.6"/><rect x="553.3" y="516.7" width="2.5" height="14.8"/><rect x="562.5" y="518.3" width="2.5" height="13.2"/><rect x="564.8" y="518.3" width="2.5" height="13.2"/><rect x="567" y="500" width="2.5" height="31.5"/><rect x="569.3" y="516" width="2.5" height="15.5"/><rect x="576.2" y="517.1" width="2.5" height="14.4"/><rect x="578" y="518.7" width="2.5" height="12.8"/><rect x="600.8" y="516.3" width="2.5" height="15.2"/><rect x="607.8" y="511.3" width="2.5" height="20.2"/><rect x="612.4" y="512.3" width="2.5" height="19.2"/><rect x="615.2" y="494.2" width="2.5" height="37.3"/><rect x="619.8" y="506.3" width="2.5" height="25.2"/><rect x="622.4" y="512.3" width="2.5" height="19.2"/><rect x="631.2" y="476.2" width="2.5" height="55.3"/><rect x="633.2" y="495.2" width="2.5" height="36.3"/><rect x="644.8" y="502.2" width="2.5" height="29.3"/><rect x="647.2" y="463.2" width="2.5" height="68.3"/></g>
<g fill="#c62a58" stroke="#8c1238" stroke-width="0.7"><rect x="17.3" y="522.9" width="2.5" height="8.6"/><rect x="26" y="525.8" width="2.5" height="5.7"/><rect x="28.1" y="525.1" width="2.5" height="6.4"/><rect x="30.4" y="514.9" width="2.5" height="16.6"/><rect x="43.6" y="525.1" width="2.5" height="6.4"/><rect x="48.6" y="524" width="2.5" height="7.5"/><rect x="57.8" y="525.1" width="2.5" height="6.4"/><rect x="60.1" y="525.1" width="2.5" height="6.4"/><rect x="67.2" y="513.7" width="2.5" height="17.8"/><rect x="73.5" y="522.9" width="2.5" height="8.6"/><rect x="78.1" y="508" width="2.5" height="23.5"/><rect x="82.7" y="509.1" width="2.5" height="22.4"/><rect x="91.8" y="520.6" width="2.5" height="10.9"/><rect x="94.1" y="509.1" width="2.5" height="22.4"/><rect x="96.4" y="519" width="2.5" height="12.5"/><rect x="98.7" y="518.3" width="2.5" height="13.2"/><rect x="105.8" y="524.5" width="2.5" height="7"/><rect x="108.1" y="524" width="2.5" height="7.5"/><rect x="112.6" y="517.6" width="2.5" height="13.9"/><rect x="114.9" y="517.1" width="2.5" height="14.4"/><rect x="119.5" y="522.9" width="2.5" height="8.6"/><rect x="126.3" y="512.1" width="2.5" height="19.4"/><rect x="133.2" y="522.9" width="2.5" height="8.6"/><rect x="135.5" y="525.1" width="2.5" height="6.4"/><rect x="144.6" y="522.9" width="2.5" height="8.6"/><rect x="149.2" y="524" width="2.5" height="7.5"/><rect x="160.6" y="522.2" width="2.5" height="9.3"/><rect x="162.9" y="522.2" width="2.5" height="9.3"/><rect x="165.2" y="524" width="2.5" height="7.5"/><rect x="169.9" y="525.8" width="2.5" height="5.7"/><rect x="171.9" y="525.1" width="2.5" height="6.4"/><rect x="176.5" y="518.3" width="2.5" height="13.2"/><rect x="178.8" y="521.7" width="2.5" height="9.8"/><rect x="181.1" y="524" width="2.5" height="7.5"/><rect x="185.7" y="526.3" width="2.5" height="5.2"/><rect x="187.9" y="526.3" width="2.5" height="5.2"/><rect x="190.2" y="516" width="2.5" height="15.5"/><rect x="194.8" y="523.5" width="2.5" height="8"/><rect x="201.7" y="526.7" width="2.5" height="4.8"/><rect x="203.9" y="526.3" width="2.5" height="5.2"/><rect x="210.8" y="522.2" width="2.5" height="9.3"/><rect x="213.1" y="524" width="2.5" height="7.5"/><rect x="224.5" y="523.5" width="2.5" height="8"/><rect x="233.7" y="527.4" width="2.5" height="4.1"/><rect x="249.7" y="524" width="2.5" height="7.5"/><rect x="251.9" y="524" width="2.5" height="7.5"/><rect x="258.8" y="527.4" width="2.5" height="4.1"/><rect x="261.1" y="527.4" width="2.5" height="4.1"/><rect x="263.4" y="517.1" width="2.5" height="14.4"/><rect x="265.7" y="524" width="2.5" height="7.5"/><rect x="272.5" y="526.3" width="2.5" height="5.2"/><rect x="277.1" y="525.8" width="2.5" height="5.7"/><rect x="279.4" y="517.1" width="2.5" height="14.4"/><rect x="283.9" y="521.3" width="2.5" height="10.2"/><rect x="286.2" y="522.2" width="2.5" height="9.3"/><rect x="293.1" y="524" width="2.5" height="7.5"/><rect x="295.4" y="509.1" width="2.5" height="22.4"/><rect x="299.9" y="516" width="2.5" height="15.5"/><rect x="304.5" y="524" width="2.5" height="7.5"/><rect x="306.8" y="524" width="2.5" height="7.5"/><rect x="311.4" y="514.2" width="2.5" height="17.3"/><rect x="318.2" y="525.1" width="2.5" height="6.4"/><rect x="320.6" y="526.3" width="2.5" height="5.2"/><rect x="322.9" y="526.3" width="2.5" height="5.2"/><rect x="334.3" y="493.1" width="2.5" height="38.4"/><rect x="336.6" y="498.9" width="2.5" height="32.6"/><rect x="338.9" y="503.4" width="2.5" height="28.1"/><rect x="341.1" y="497.7" width="2.5" height="33.8"/><rect x="345.7" y="501.1" width="2.5" height="30.4"/><rect x="361.7" y="500" width="2.5" height="31.5"/><rect x="377.7" y="493.1" width="2.5" height="38.4"/><rect x="388.9" y="490.9" width="2.5" height="40.6"/><rect x="395.8" y="482.9" width="2.5" height="48.6"/><rect x="398.3" y="492" width="2.5" height="39.5"/><rect x="411.8" y="482.9" width="2.5" height="48.6"/><rect x="414.3" y="494.3" width="2.5" height="37.2"/><rect x="416.6" y="496.6" width="2.5" height="34.9"/><rect x="418.6" y="503.4" width="2.5" height="28.1"/><rect x="427.8" y="480.1" width="2.5" height="51.4"/><rect x="436.9" y="498.9" width="2.5" height="32.6"/><rect x="439.2" y="465.7" width="2.5" height="65.8"/><rect x="441.5" y="501.1" width="2.5" height="30.4"/><rect x="443.8" y="487" width="2.5" height="44.5"/><rect x="446.1" y="497.7" width="2.5" height="33.8"/><rect x="452.5" y="462.7" width="2.5" height="68.8"/><rect x="455.2" y="437.8" width="2.5" height="93.7"/><rect x="465" y="497.7" width="2.5" height="33.8"/><rect x="467.3" y="500" width="2.5" height="31.5"/><rect x="471" y="463" width="2.5" height="68.5"/><rect x="476.1" y="487.9" width="2.5" height="43.6"/><rect x="478.4" y="494.3" width="2.5" height="37.2"/><rect x="480.6" y="504.6" width="2.5" height="26.9"/><rect x="482.5" y="506.2" width="2.5" height="25.3"/><rect x="487" y="442.2" width="2.5" height="89.3"/><rect x="494.4" y="498.9" width="2.5" height="32.6"/><rect x="500.8" y="505.7" width="2.5" height="25.8"/><rect x="510.4" y="501.1" width="2.5" height="30.4"/><rect x="516.8" y="506.9" width="2.5" height="24.6"/><rect x="521.3" y="509.1" width="2.5" height="22.4"/><rect x="523.6" y="499.3" width="2.5" height="32.2"/><rect x="530" y="510.3" width="2.5" height="21.2"/><rect x="535" y="484" width="2.5" height="47.5"/><rect x="537.3" y="506.2" width="2.5" height="25.3"/><rect x="539.6" y="497" width="2.5" height="34.5"/><rect x="542.4" y="501.1" width="2.5" height="30.4"/><rect x="548.8" y="509.1" width="2.5" height="22.4"/><rect x="555.6" y="508" width="2.5" height="23.5"/><rect x="558.4" y="513" width="2.5" height="18.5"/><rect x="560.2" y="517.1" width="2.5" height="14.4"/><rect x="571.6" y="509.8" width="2.5" height="21.7"/><rect x="573.9" y="513" width="2.5" height="18.5"/><rect x="580.3" y="514.9" width="2.5" height="16.6"/><rect x="583" y="498.9" width="2.5" height="32.6"/><rect x="585.3" y="514.4" width="2.5" height="17.1"/><rect x="587.6" y="505" width="2.5" height="26.5"/><rect x="590.4" y="510.7" width="2.5" height="20.8"/><rect x="592.2" y="511.4" width="2.5" height="20.1"/><rect x="594.5" y="514.4" width="2.5" height="17.1"/><rect x="596.3" y="511" width="2.5" height="20.5"/><rect x="598.8" y="491.2" width="2.5" height="40.3"/><rect x="603.2" y="506.3" width="2.5" height="25.2"/><rect x="605.8" y="510.3" width="2.5" height="21.2"/><rect x="610.4" y="514.7" width="2.5" height="16.8"/><rect x="617.2" y="512.7" width="2.5" height="18.8"/><rect x="624.4" y="513.3" width="2.5" height="18.2"/><rect x="626.4" y="516.3" width="2.5" height="15.2"/><rect x="628.8" y="511.3" width="2.5" height="20.2"/><rect x="635.6" y="481.2" width="2.5" height="50.3"/><rect x="638.2" y="492.2" width="2.5" height="39.3"/><rect x="640.2" y="501.8" width="2.5" height="29.7"/><rect x="642.4" y="505.3" width="2.5" height="26.2"/></g>
<rect x="17" y="432" width="132" height="12" fill="url(#bg)"/>
<path d="M19.5 441.5v-4.5h2.2v4.5zM22.2 441.5v-8.3h2.4v8.3zM25.1 441.5v-6.3h2.3v6.3z" fill="#3f9a3f" stroke="#1f6b24" stroke-width="0.9"/>
<text x="31.7" y="441.7" font-size="9.4" class="v" textLength="115.2" lengthAdjust="spacingAndGlyphs">Volume 503,356,864</text>
<polygon clip-path="url(#c70)" points="17,566.6 17.2,607.7 19.7,596.3 24.3,589.4 26.6,589.9 31.1,599.7 33.4,574.6 38,570 42.6,569.3 44.9,572.3 47.8,569.3 49.4,575.3 56.3,565.4 60.9,572.3 65.4,570 67.7,574.6 71.1,566.1 74.6,566.6 79.1,564.3 81,562.5 83.7,576.4 90.6,568.4 94,571.1 98.6,579.8 105.4,578 108.9,579.8 112.3,576.2 115.7,579.1 119.1,578 121.4,579.8 125.5,575.3 128.3,576.9 132.9,573 136.3,574.6 139.7,568.4 143.1,568.4 145.4,575.3 148.9,573.4 152.3,575.3 158,573.4 161.4,568.9 163.7,572.3 168.3,568.9 171.7,570 174.6,568.9 176.9,571.1 179.6,577.5 182.6,577.5 185.5,575.3 188.3,577.5 191,577.5 193.5,566.6 195.6,570.7 199.7,567 202.5,566.6 204.7,568.4 209.3,562.5 211.1,567.7 215,573.9 218.5,571.1 223,567 225.3,578.5 228.3,573.9 232.2,572.3 234.5,573.9 238.6,570.7 241.3,565.4 246.6,565.4 248.4,563.1 252.3,578.5 256.9,574.6 261,576.9 266,586.7 268.7,579.1 272.2,575.3 275.1,576.2 277.9,575.3 280.9,582.6 282.5,576.2 285.4,579.8 288.4,581.4 291.1,579.1 294.6,587.6 297.5,591.3 299.1,589.9 300.7,593.5 302.6,590.6 307.1,598.1 309.4,595.1 312.2,594.7 315.6,588.7 320.9,589.9 323.4,594.5 326.9,594.5 328.5,591.3 329.1,579.1 330.7,573 333.7,573.9 341,579.1 344,577.5 345.6,578.5 348.6,576.2 352,574.6 357.7,570 360.7,569.3 362.3,575.3 364.6,570 368,565.4 370.7,558.6 376,554 378.3,555.6 381.7,555.1 387,551.3 389.3,561.5 392,561.5 394.3,557.9 398.9,559.3 403.4,557.9 410.3,554 413.3,563.8 417.1,568.9 419.4,570 423.3,567 425.8,558.6 427.9,561.5 435,558.1 437,562.5 440.7,564.3 444.6,570 447.5,573 450.7,567 452.6,584.9 456.5,589.4 458.3,579.8 461.7,577.5 464.5,578 467.4,585.3 469.7,582.1 472,583 475,579.1 478.7,581.4 483.3,588.3 486,586 488.7,586 492.2,578.5 495.1,584.4 499.3,579.1 501.5,583.7 504.3,582.6 506.6,574.6 508.9,574.6 512.3,578.5 515.7,576.9 517.5,579.1 520.3,576.2 524.9,581.4 529.9,579.1 531.7,580.3 533.5,579.1 536.3,583.7 538.6,589 543.1,594.5 547.3,587.6 550,588.3 554.6,586 558,588.3 561.4,588.3 564.9,586 568.3,581.4 570.1,569.3 572.4,570 575.6,574.6 579.7,573 583.8,576.9 585.4,589.9 587,591.3 590.7,591.3 594.6,599.7 598,600.4 600.3,602.7 602.6,599.3 606.5,603.1 611.3,602 613.5,598.1 616.3,598.1 618.6,603.6 622.7,598.1 626.6,604.3 629.7,608.6 632.1,600.2 633.5,579.1 634.5,578.1 638.1,583.1 643.1,587.2 645.7,584.1 648.7,576.1 653,566.6" fill="#7dbdb1"/>
<polygon clip-path="url(#c30)" points="17,600.4 17.2,607.7 19.7,596.3 24.3,589.4 26.6,589.9 31.1,599.7 33.4,574.6 38,570 42.6,569.3 44.9,572.3 47.8,569.3 49.4,575.3 56.3,565.4 60.9,572.3 65.4,570 67.7,574.6 71.1,566.1 74.6,566.6 79.1,564.3 81,562.5 83.7,576.4 90.6,568.4 94,571.1 98.6,579.8 105.4,578 108.9,579.8 112.3,576.2 115.7,579.1 119.1,578 121.4,579.8 125.5,575.3 128.3,576.9 132.9,573 136.3,574.6 139.7,568.4 143.1,568.4 145.4,575.3 148.9,573.4 152.3,575.3 158,573.4 161.4,568.9 163.7,572.3 168.3,568.9 171.7,570 174.6,568.9 176.9,571.1 179.6,577.5 182.6,577.5 185.5,575.3 188.3,577.5 191,577.5 193.5,566.6 195.6,570.7 199.7,567 202.5,566.6 204.7,568.4 209.3,562.5 211.1,567.7 215,573.9 218.5,571.1 223,567 225.3,578.5 228.3,573.9 232.2,572.3 234.5,573.9 238.6,570.7 241.3,565.4 246.6,565.4 248.4,563.1 252.3,578.5 256.9,574.6 261,576.9 266,586.7 268.7,579.1 272.2,575.3 275.1,576.2 277.9,575.3 280.9,582.6 282.5,576.2 285.4,579.8 288.4,581.4 291.1,579.1 294.6,587.6 297.5,591.3 299.1,589.9 300.7,593.5 302.6,590.6 307.1,598.1 309.4,595.1 312.2,594.7 315.6,588.7 320.9,589.9 323.4,594.5 326.9,594.5 328.5,591.3 329.1,579.1 330.7,573 333.7,573.9 341,579.1 344,577.5 345.6,578.5 348.6,576.2 352,574.6 357.7,570 360.7,569.3 362.3,575.3 364.6,570 368,565.4 370.7,558.6 376,554 378.3,555.6 381.7,555.1 387,551.3 389.3,561.5 392,561.5 394.3,557.9 398.9,559.3 403.4,557.9 410.3,554 413.3,563.8 417.1,568.9 419.4,570 423.3,567 425.8,558.6 427.9,561.5 435,558.1 437,562.5 440.7,564.3 444.6,570 447.5,573 450.7,567 452.6,584.9 456.5,589.4 458.3,579.8 461.7,577.5 464.5,578 467.4,585.3 469.7,582.1 472,583 475,579.1 478.7,581.4 483.3,588.3 486,586 488.7,586 492.2,578.5 495.1,584.4 499.3,579.1 501.5,583.7 504.3,582.6 506.6,574.6 508.9,574.6 512.3,578.5 515.7,576.9 517.5,579.1 520.3,576.2 524.9,581.4 529.9,579.1 531.7,580.3 533.5,579.1 536.3,583.7 538.6,589 543.1,594.5 547.3,587.6 550,588.3 554.6,586 558,588.3 561.4,588.3 564.9,586 568.3,581.4 570.1,569.3 572.4,570 575.6,574.6 579.7,573 583.8,576.9 585.4,589.9 587,591.3 590.7,591.3 594.6,599.7 598,600.4 600.3,602.7 602.6,599.3 606.5,603.1 611.3,602 613.5,598.1 616.3,598.1 618.6,603.6 622.7,598.1 626.6,604.3 629.7,608.6 632.1,600.2 633.5,579.1 634.5,578.1 638.1,583.1 643.1,587.2 645.7,584.1 648.7,576.1 653,600.4" fill="#7dbdb1"/>
<path d="M17 566.6H653M17 600.4H653" stroke="#2a2acc" stroke-width="1.1" fill="none"/>
<path d="M17 583.4H653" stroke="#2a2acc" stroke-width="1.1" stroke-dasharray="8,2.5,2,2.5" fill="none"/>
<polyline points="17.2,607.7 19.7,596.3 24.3,589.4 26.6,589.9 31.1,599.7 33.4,574.6 38,570 42.6,569.3 44.9,572.3 47.8,569.3 49.4,575.3 56.3,565.4 60.9,572.3 65.4,570 67.7,574.6 71.1,566.1 74.6,566.6 79.1,564.3 81,562.5 83.7,576.4 90.6,568.4 94,571.1 98.6,579.8 105.4,578 108.9,579.8 112.3,576.2 115.7,579.1 119.1,578 121.4,579.8 125.5,575.3 128.3,576.9 132.9,573 136.3,574.6 139.7,568.4 143.1,568.4 145.4,575.3 148.9,573.4 152.3,575.3 158,573.4 161.4,568.9 163.7,572.3 168.3,568.9 171.7,570 174.6,568.9 176.9,571.1 179.6,577.5 182.6,577.5 185.5,575.3 188.3,577.5 191,577.5 193.5,566.6 195.6,570.7 199.7,567 202.5,566.6 204.7,568.4 209.3,562.5 211.1,567.7 215,573.9 218.5,571.1 223,567 225.3,578.5 228.3,573.9 232.2,572.3 234.5,573.9 238.6,570.7 241.3,565.4 246.6,565.4 248.4,563.1 252.3,578.5 256.9,574.6 261,576.9 266,586.7 268.7,579.1 272.2,575.3 275.1,576.2 277.9,575.3 280.9,582.6 282.5,576.2 285.4,579.8 288.4,581.4 291.1,579.1 294.6,587.6 297.5,591.3 299.1,589.9 300.7,593.5 302.6,590.6 307.1,598.1 309.4,595.1 312.2,594.7 315.6,588.7 320.9,589.9 323.4,594.5 326.9,594.5 328.5,591.3 329.1,579.1 330.7,573 333.7,573.9 341,579.1 344,577.5 345.6,578.5 348.6,576.2 352,574.6 357.7,570 360.7,569.3 362.3,575.3 364.6,570 368,565.4 370.7,558.6 376,554 378.3,555.6 381.7,555.1 387,551.3 389.3,561.5 392,561.5 394.3,557.9 398.9,559.3 403.4,557.9 410.3,554 413.3,563.8 417.1,568.9 419.4,570 423.3,567 425.8,558.6 427.9,561.5 435,558.1 437,562.5 440.7,564.3 444.6,570 447.5,573 450.7,567 452.6,584.9 456.5,589.4 458.3,579.8 461.7,577.5 464.5,578 467.4,585.3 469.7,582.1 472,583 475,579.1 478.7,581.4 483.3,588.3 486,586 488.7,586 492.2,578.5 495.1,584.4 499.3,579.1 501.5,583.7 504.3,582.6 506.6,574.6 508.9,574.6 512.3,578.5 515.7,576.9 517.5,579.1 520.3,576.2 524.9,581.4 529.9,579.1 531.7,580.3 533.5,579.1 536.3,583.7 538.6,589 543.1,594.5 547.3,587.6 550,588.3 554.6,586 558,588.3 561.4,588.3 564.9,586 568.3,581.4 570.1,569.3 572.4,570 575.6,574.6 579.7,573 583.8,576.9 585.4,589.9 587,591.3 590.7,591.3 594.6,599.7 598,600.4 600.3,602.7 602.6,599.3 606.5,603.1 611.3,602 613.5,598.1 616.3,598.1 618.6,603.6 622.7,598.1 626.6,604.3 629.7,608.6 632.1,600.2 633.5,579.1 634.5,578.1 638.1,583.1 643.1,587.2 645.7,584.1 648.7,576.1" fill="none" stroke="#3232cc" stroke-width="1.1" stroke-linejoin="round"/>
<rect x="17" y="533" width="95" height="12" fill="url(#bg)"/>
<path d="M19.4 542.8L23.1 534.5 25.7 539.2 27.7 536.2V542.8z" fill="#7dbdb1"/><path d="M19.4 542.8L23.1 534.5 25.7 539.2 27.7 536.2V542.8" fill="none" stroke="#2222ee" stroke-width="1.1"/>
<text x="31.8" y="542.7" font-size="9.4" class="v" textLength="78.9" lengthAdjust="spacingAndGlyphs">RSI(14) 58.15</text>
<path d="M17 658.5H653M17 710.5H653" stroke="#176b35" stroke-width="1.2" fill="none"/>
<path d="M17 684.5H653" stroke="#176b35" stroke-width="1.2" stroke-dasharray="8,2.5,2,2.5" fill="none"/>
<g clip-path="url(#c5)"><polyline points="17.2,719.6 19.5,715.7 21.8,711.7 24.1,701.6 26.3,690.1 28.6,682.8 30.9,683.5 33.2,686.6 35.5,682.7 37.8,669 40.1,654.8 42.4,645.4 44.6,642.9 46.9,643.2 49.2,644.7 51.5,646 53.8,646.5 56.1,646.4 58.4,646.2 60.6,646.3 62.9,647.5 65.2,650.2 67.5,654.3 69.8,657.4 72.1,658.3 74.4,656 76.6,653.6 78.9,652 81.2,653.1 83.5,657.1 85.8,662.6 88.1,667.5 90.4,666.8 92.7,662.8 94.9,658.9 97.2,661.1 99.5,668.4 101.8,679.4 104.1,689.9 106.4,698.2 108.7,702.4 110.9,702.9 113.2,700.6 115.5,696.5 117.8,694.3 120.1,694.8 122.4,696.9 124.7,696.2 127,691.2 129.2,681.8 131.5,670.9 133.8,661 136.1,654.9 138.4,652 140.7,650.3 143,648.4 145.2,647.2 147.5,648.4 149.8,651.9 152.1,656.3 154.4,660.2 156.7,662.5 159,663.4 161.2,661.6 163.5,658.4 165.8,654.4 168.1,651.7 170.4,650.9 172.7,651.7 175,653.4 177.3,655.1 179.5,658.5 181.8,664.2 184.1,671 186.4,676.3 188.7,679.1 191,681.4 193.3,680.5 195.5,675.8 197.8,665.6 200.1,656.1 202.4,649.4 204.7,647 207,646.5 209.3,646.5 211.6,647.2 213.8,650 216.1,655.3 218.4,660.4 220.7,661.8 223,659.4 225.3,658.3 227.6,661.5 229.8,668.1 232.1,672.3 234.4,673.3 236.7,671.4 239,668.2 241.3,661.8 243.6,654 245.8,647.2 248.1,643.9 250.4,645.3 252.7,651.7 255,660.8 257.3,668.5 259.6,671.5 261.9,673 264.1,679.2 266.4,691.6 268.7,701.1 271,698.9 273.3,686.7 275.6,674.5 277.9,668.6 280.1,667.7 282.4,669.6 284.7,671.6 287,672.4 289.3,674 291.6,676.7 293.9,681.8 296.2,689.8 298.4,700.4 300.7,709.6 303,714.1 305.3,716.1 307.6,718.2 309.9,721.3 312.2,721.5 314.4,718.4 316.7,711.9 319,705.4 321.3,700.9 323.6,700.7 325.9,703.3 328.2,707.3 330.5,704.2 332.7,689.5 335,669.8 337.3,656.5 339.6,654.9 341.9,658.8 344.2,662 346.5,663.3 348.7,662.1 351,660.1 353.3,656.8 355.6,652.5 357.9,647.5 360.2,644.3 362.5,645.6 364.7,648.8 367,651.2 369.3,648.8 371.6,645.2 373.9,642.2 376.2,641.8 378.5,642.4 380.8,643.4 383,644.3 385.3,644.8 387.6,644.7 389.9,645.4 392.2,646.6 394.5,648.1 396.8,648 399,647 401.3,646 403.6,645.6 405.9,644.8 408.2,643.6 410.5,642.5 412.8,644 415.1,649.3 417.3,658.6 419.6,668.4 421.9,675.9 424.2,680 426.5,678.7 428.8,672.7 431.1,663.5 433.3,656 435.6,651.4 437.9,651.1 440.2,652.8 442.5,657.1 444.8,661.7 447.1,666.8 449.3,669.7 451.6,671.8 453.9,676 456.2,684.3 458.5,693.3 460.8,694.2 463.1,687.6 465.4,678.9 467.6,676.7 469.9,679.6 472.2,684.2 474.5,684.8 476.8,682.8 479.1,679.4 481.4,680.7 483.6,685.4 485.9,691.8 488.2,696.2 490.5,697 492.8,694.5 495.1,689.3 497.4,683.6 499.7,678.2 501.9,674 504.2,672.1 506.5,669.6 508.8,664.9 511.1,658.3 513.4,654.3 515.7,653.9 517.9,655.3 520.2,656 522.5,657.4 524.8,659.9 527.1,664.3 529.4,667.3 531.7,668.6 533.9,668.6 536.2,672.1 538.5,682.7 540.8,699.8 543.1,713.2 545.4,719.3 547.7,716.2 550,710.8 552.2,704.8 554.5,700.4 556.8,698.1 559.1,697.2 561.4,697.6 563.7,698.1 566,696.7 568.2,689.7 570.5,676.2 572.8,661 575.1,652.1 577.4,651.7 579.7,655.2 582,657.9 584.3,660.4 586.5,668.2 588.8,683.2 591.1,701.3 593.4,714.6 595.7,720.8 598,722.4 600.3,723.3 602.5,722.9 604.8,723.1 607.1,722.8 609.4,723.3 611.7,721.8 614,719.3 616.3,716.5 618.5,715.7 620.8,715.9 623.1,716.2 625.4,715.6 627.7,716.4 630,718.4 632.3,719.9 634.6,712 636.8,697 639.1,680.7 641.4,674.6 643.7,677.7 646,682.7 648.3,683.4" fill="none" stroke="#f00" stroke-width="1.4" stroke-linejoin="round"/>
<polyline points="17.2,719.6 22,703.1 25.9,676.9 27.7,678 31.8,695.1 34.6,678 38,648.3 41,642 44,642 48.3,646.5 55.1,646.5 59.7,645.5 64.3,651.7 67.7,659.7 71.1,658.6 74.6,651.7 80.3,652.2 83.7,664.3 87.6,672.3 91.7,656.3 94.5,657 98.6,673.4 102,692.9 105.4,703.1 108.2,705 112.3,698.6 115.7,691.7 118.7,695.1 120.7,699.7 123.3,697.4 127.1,682.6 130.6,662 134,652.9 138.6,650.6 143.1,646 145.4,647.1 148.9,655.1 151.6,659.7 154.6,663.8 159.1,663.1 162.6,655.1 167.1,649.4 170.6,651.7 173.4,654 178,657.4 181.4,671.1 184.9,679.1 188.3,679.8 191.3,684.9 195.1,668.9 198.6,649.4 202,646.5 210,646.5 212.3,649.4 215.7,662 218,664.3 223.7,654 227.1,667.7 230.6,676.9 232.9,671.1 235.1,672.3 238.6,665.4 242,649.4 244.3,643.7 248.9,642.6 251.1,652.9 253.4,666.6 256.4,673.4 259.1,671.1 261.9,674.6 264.2,691.7 266.5,709.5 268.7,703.1 271.7,679.1 274.7,666.6 277.4,666.1 280.9,671.1 284.3,673 287,672.3 290,678 293.4,684.9 296.2,700.9 299.1,716.4 303,714.1 306,720.3 310.1,723.7 312.9,718 316.3,705 319.7,698.6 321.3,698.6 325,706.6 328.5,711.1 330.3,696.3 332.6,664.3 335.3,650.1 338.3,656.3 341.7,663.1 345.6,664.3 348.6,659.7 352,657 355.4,647.1 357.7,642.6 360,643 362.3,650.6 364.6,652.2 367.5,650.6 369.8,641.4 376,641.9 379.4,644.2 385.1,645.3 387.4,643.7 390.4,647.8 393.6,649.4 396.6,646.7 399.5,645.5 402.7,646 406.4,643 410.3,641.4 412.6,647.1 414.9,657.4 417.1,668.9 419.4,676.9 421.7,680.7 424.5,682.1 426.7,672.3 429.7,658.6 431.5,652.9 435.4,648.7 437.7,652.9 440,655.6 443.4,664.3 447.5,672.3 450.7,669.3 453,679.1 456,695.1 458.3,701.3 461.3,683.7 463.5,673.9 465.1,673.4 468.1,681.4 472,688.3 475.7,679.1 479.1,677.5 482.6,690.6 485.5,696.3 488.7,699.7 492.2,690.6 495.1,683.7 498.6,674.6 501.5,670.7 504.3,672.3 506.6,665.4 508.9,656.3 511.6,651.7 514.6,654.7 517.5,657 520.3,655.6 523.7,662 527.1,668.9 530.6,668.9 533.3,666.6 535.8,675.7 538.1,695.1 540.4,720.3 545,719.1 547.3,712.3 549.5,704.3 552.3,699.7 555.7,696.7 558.7,696.7 561.4,699 564.2,698.1 566.5,691.3 568.7,674.6 570.6,657 572.4,646.5 574.7,650.6 577.4,656.3 580.9,658.6 583.6,660.9 585.4,668.9 587.7,694 590,715.7 592.3,720.3 595.3,723.3 598,722.6 600.3,724.2 602.6,721.9 604.9,723.3 609.4,723.3 612.8,716.7 615.8,714.5 618.8,716.7 622.3,716.2 625.3,714.5 629.5,722.2 632.5,719 633.9,702.2 636,679.1 639.4,669.7 641.1,674.8 643.2,685.9 645.4,687.1 648.5,677.9" fill="none" stroke="#000" stroke-width="1.8" stroke-linejoin="round"/></g>
<rect x="17" y="634" width="234" height="11.4" fill="url(#bg)"/>
<rect x="19" y="638.6" width="8.7" height="2.3" fill="#000"/>
<text x="31.7" y="643.7" font-size="9.4" class="v" textLength="182.8" lengthAdjust="spacingAndGlyphs">Full STO %K(14,3) %D(3) 57.85,</text>
<text x="218.7" y="643.7" font-size="9.4" fill="#f00" class="v" textLength="30.8" lengthAdjust="spacingAndGlyphs">50.67</text>
</svg></body></html>
